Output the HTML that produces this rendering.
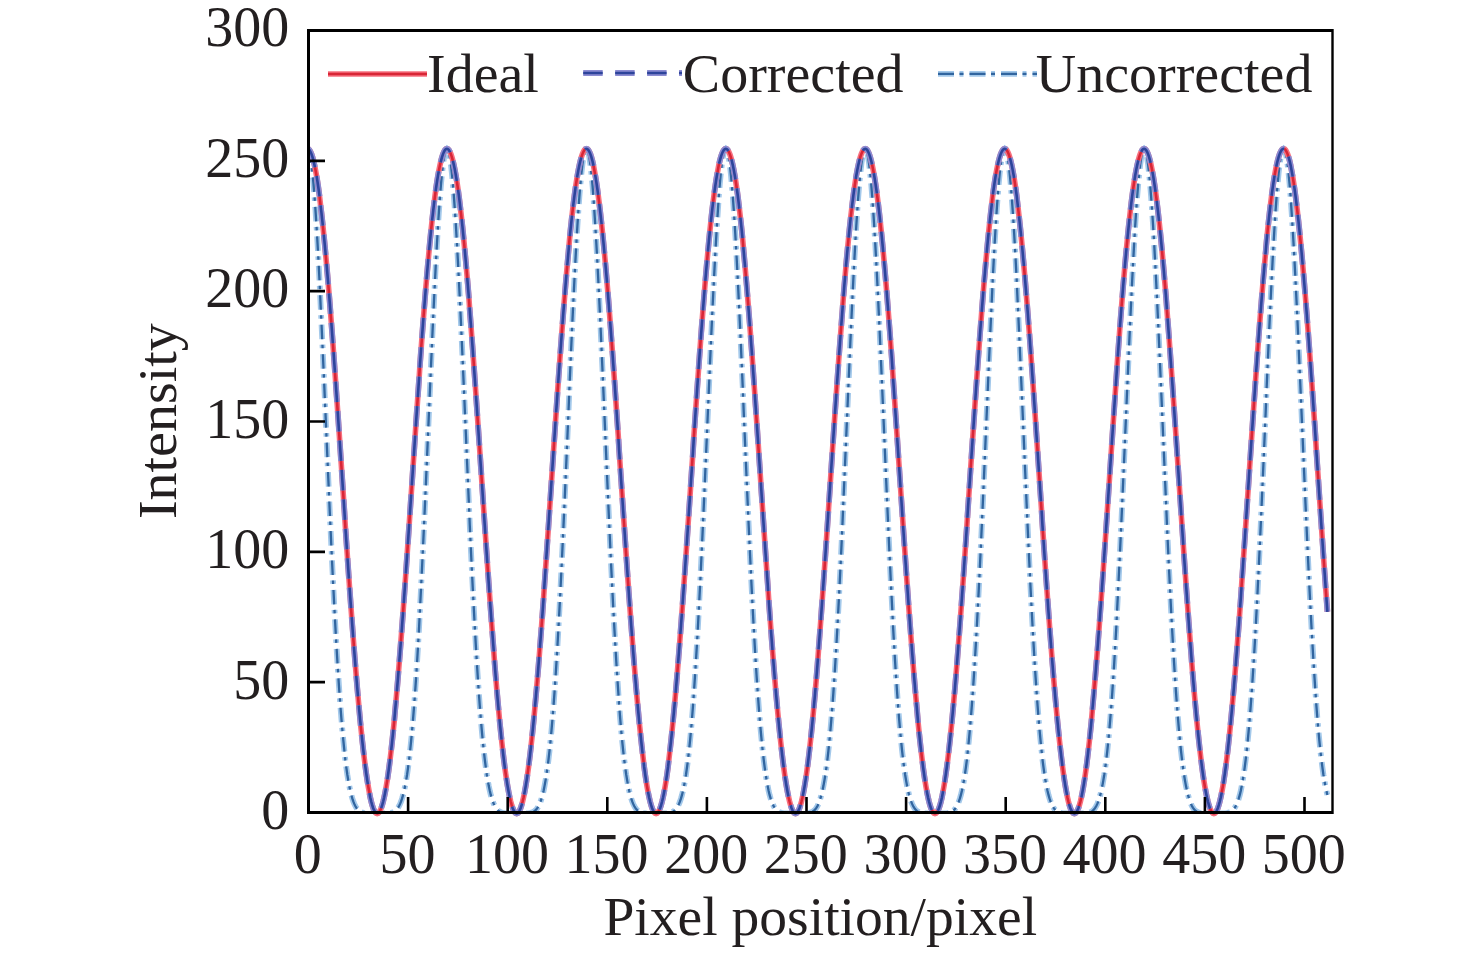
<!DOCTYPE html>
<html><head><meta charset="utf-8"><style>html,body{margin:0;padding:0;background:#fff;width:1476px;height:953px;overflow:hidden}svg{display:block}</style></head>
<body><svg width="1476" height="953" viewBox="0 0 1476 953"><rect width="1476" height="953" fill="#fff"/><defs><clipPath id="c"><rect x="309" y="31" width="1023" height="790"/></clipPath></defs><defs><clipPath id="c2"><rect x="309" y="31" width="1023" height="780"/></clipPath></defs><g clip-path="url(#c2)"><path d="M307.5 148.8L308.5 149.8L309.5 152.8L310.5 157.8L311.5 164.7L312.5 173.5L313.5 184.1L314.5 196.4L315.5 210.4L316.5 225.8L317.5 242.7L318.5 260.9L319.5 280.2L320.4 300.5L321.4 321.6L322.4 343.5L323.4 365.9L324.4 388.6L325.4 411.7L326.4 434.8L327.4 458.0L328.4 480.9L329.4 503.6L330.4 525.8L331.4 547.5L332.4 568.5L333.4 588.9L334.4 608.4L335.4 627.1L336.4 644.9L337.4 661.7L338.4 677.5L339.4 692.3L340.4 706.0L341.4 718.7L342.4 730.4L343.4 741.1L344.4 750.8L345.3 759.6L346.3 767.4L347.3 774.5L348.3 780.6L349.3 786.1L350.3 790.8L351.3 794.9L352.3 798.4L353.3 801.4L354.3 803.9L355.3 806.0L356.3 807.7L357.3 809.1L358.3 810.2L359.3 811.1L360.3 811.7L361.3 812.2L362.3 812.6L363.3 812.9L364.3 813.1L365.3 813.3L366.3 813.4L367.3 813.4L368.3 813.5L369.3 813.5L370.2 813.5L371.2 813.5L372.2 813.5L373.2 813.5L374.2 813.5L375.2 813.5L376.2 813.5L377.2 813.5L378.2 813.5L379.2 813.5L380.2 813.5L381.2 813.5L382.2 813.5L383.2 813.5L384.2 813.5L385.2 813.5L386.2 813.5L387.2 813.4L388.2 813.4L389.2 813.3L390.2 813.1L391.2 812.9L392.2 812.6L393.2 812.2L394.2 811.7L395.1 811.1L396.1 810.2L397.1 809.1L398.1 807.7L399.1 806.0L400.1 803.9L401.1 801.4L402.1 798.4L403.1 794.9L404.1 790.8L405.1 786.1L406.1 780.6L407.1 774.5L408.1 767.4L409.1 759.6L410.1 750.8L411.1 741.1L412.1 730.4L413.1 718.7L414.1 706.0L415.1 692.3L416.1 677.5L417.1 661.7L418.1 644.9L419.1 627.1L420.0 608.4L421.0 588.9L422.0 568.5L423.0 547.5L424.0 525.8L425.0 503.6L426.0 480.9L427.0 458.0L428.0 434.8L429.0 411.7L430.0 388.6L431.0 365.9L432.0 343.5L433.0 321.6L434.0 300.5L435.0 280.2L436.0 260.9L437.0 242.7L438.0 225.8L439.0 210.4L440.0 196.4L441.0 184.1L442.0 173.5L443.0 164.7L444.0 157.8L444.9 152.8L445.9 149.8L446.9 148.8L447.9 149.8L448.9 152.8L449.9 157.8L450.9 164.7L451.9 173.5L452.9 184.1L453.9 196.4L454.9 210.4L455.9 225.8L456.9 242.7L457.9 260.9L458.9 280.2L459.9 300.5L460.9 321.6L461.9 343.5L462.9 365.9L463.9 388.6L464.9 411.7L465.9 434.8L466.9 458.0L467.9 480.9L468.9 503.6L469.8 525.8L470.8 547.5L471.8 568.5L472.8 588.9L473.8 608.4L474.8 627.1L475.8 644.9L476.8 661.7L477.8 677.5L478.8 692.3L479.8 706.0L480.8 718.7L481.8 730.4L482.8 741.1L483.8 750.8L484.8 759.6L485.8 767.4L486.8 774.5L487.8 780.6L488.8 786.1L489.8 790.8L490.8 794.9L491.8 798.4L492.8 801.4L493.8 803.9L494.7 806.0L495.7 807.7L496.7 809.1L497.7 810.2L498.7 811.1L499.7 811.7L500.7 812.2L501.7 812.6L502.7 812.9L503.7 813.1L504.7 813.3L505.7 813.4L506.7 813.4L507.7 813.5L508.7 813.5L509.7 813.5L510.7 813.5L511.7 813.5L512.7 813.5L513.7 813.5L514.7 813.5L515.7 813.5L516.7 813.5L517.7 813.5L518.7 813.5L519.6 813.5L520.6 813.5L521.6 813.5L522.6 813.5L523.6 813.5L524.6 813.5L525.6 813.5L526.6 813.4L527.6 813.4L528.6 813.3L529.6 813.1L530.6 812.9L531.6 812.6L532.6 812.2L533.6 811.7L534.6 811.1L535.6 810.2L536.6 809.1L537.6 807.7L538.6 806.0L539.6 803.9L540.6 801.4L541.6 798.4L542.6 794.9L543.6 790.8L544.5 786.1L545.5 780.6L546.5 774.5L547.5 767.4L548.5 759.6L549.5 750.8L550.5 741.1L551.5 730.4L552.5 718.7L553.5 706.0L554.5 692.3L555.5 677.5L556.5 661.7L557.5 644.9L558.5 627.1L559.5 608.4L560.5 588.9L561.5 568.5L562.5 547.5L563.5 525.8L564.5 503.6L565.5 480.9L566.5 458.0L567.5 434.8L568.5 411.7L569.4 388.6L570.4 365.9L571.4 343.5L572.4 321.6L573.4 300.5L574.4 280.2L575.4 260.9L576.4 242.7L577.4 225.8L578.4 210.4L579.4 196.4L580.4 184.1L581.4 173.5L582.4 164.7L583.4 157.8L584.4 152.8L585.4 149.8L586.4 148.8L587.4 149.8L588.4 152.8L589.4 157.8L590.4 164.7L591.4 173.5L592.4 184.1L593.4 196.4L594.3 210.4L595.3 225.8L596.3 242.7L597.3 260.9L598.3 280.2L599.3 300.5L600.3 321.6L601.3 343.5L602.3 365.9L603.3 388.6L604.3 411.7L605.3 434.8L606.3 458.0L607.3 480.9L608.3 503.6L609.3 525.8L610.3 547.5L611.3 568.5L612.3 588.9L613.3 608.4L614.3 627.1L615.3 644.9L616.3 661.7L617.3 677.5L618.3 692.3L619.2 706.0L620.2 718.7L621.2 730.4L622.2 741.1L623.2 750.8L624.2 759.6L625.2 767.4L626.2 774.5L627.2 780.6L628.2 786.1L629.2 790.8L630.2 794.9L631.2 798.4L632.2 801.4L633.2 803.9L634.2 806.0L635.2 807.7L636.2 809.1L637.2 810.2L638.2 811.1L639.2 811.7L640.2 812.2L641.2 812.6L642.2 812.9L643.2 813.1L644.1 813.3L645.1 813.4L646.1 813.4L647.1 813.5L648.1 813.5L649.1 813.5L650.1 813.5L651.1 813.5L652.1 813.5L653.1 813.5L654.1 813.5L655.1 813.5L656.1 813.5L657.1 813.5L658.1 813.5L659.1 813.5L660.1 813.5L661.1 813.5L662.1 813.5L663.1 813.5L664.1 813.5L665.1 813.5L666.1 813.4L667.1 813.4L668.1 813.3L669.0 813.1L670.0 812.9L671.0 812.6L672.0 812.2L673.0 811.7L674.0 811.1L675.0 810.2L676.0 809.1L677.0 807.7L678.0 806.0L679.0 803.9L680.0 801.4L681.0 798.4L682.0 794.9L683.0 790.8L684.0 786.1L685.0 780.6L686.0 774.5L687.0 767.4L688.0 759.6L689.0 750.8L690.0 741.1L691.0 730.4L692.0 718.7L693.0 706.0L693.9 692.3L694.9 677.5L695.9 661.7L696.9 644.9L697.9 627.1L698.9 608.4L699.9 588.9L700.9 568.5L701.9 547.5L702.9 525.8L703.9 503.6L704.9 480.9L705.9 458.0L706.9 434.8L707.9 411.7L708.9 388.6L709.9 365.9L710.9 343.5L711.9 321.6L712.9 300.5L713.9 280.2L714.9 260.9L715.9 242.7L716.9 225.8L717.9 210.4L718.8 196.4L719.8 184.1L720.8 173.5L721.8 164.7L722.8 157.8L723.8 152.8L724.8 149.8L725.8 148.8L726.8 149.8L727.8 152.8L728.8 157.8L729.8 164.7L730.8 173.5L731.8 184.1L732.8 196.4L733.8 210.4L734.8 225.8L735.8 242.7L736.8 260.9L737.8 280.2L738.8 300.5L739.8 321.6L740.8 343.5L741.8 365.9L742.8 388.6L743.7 411.7L744.7 434.8L745.7 458.0L746.7 480.9L747.7 503.6L748.7 525.8L749.7 547.5L750.7 568.5L751.7 588.9L752.7 608.4L753.7 627.1L754.7 644.9L755.7 661.7L756.7 677.5L757.7 692.3L758.7 706.0L759.7 718.7L760.7 730.4L761.7 741.1L762.7 750.8L763.7 759.6L764.7 767.4L765.7 774.5L766.7 780.6L767.7 786.1L768.6 790.8L769.6 794.9L770.6 798.4L771.6 801.4L772.6 803.9L773.6 806.0L774.6 807.7L775.6 809.1L776.6 810.2L777.6 811.1L778.6 811.7L779.6 812.2L780.6 812.6L781.6 812.9L782.6 813.1L783.6 813.3L784.6 813.4L785.6 813.4L786.6 813.5L787.6 813.5L788.6 813.5L789.6 813.5L790.6 813.5L791.6 813.5L792.6 813.5L793.5 813.5L794.5 813.5L795.5 813.5L796.5 813.5L797.5 813.5L798.5 813.5L799.5 813.5L800.5 813.5L801.5 813.5L802.5 813.5L803.5 813.5L804.5 813.5L805.5 813.4L806.5 813.4L807.5 813.3L808.5 813.1L809.5 812.9L810.5 812.6L811.5 812.2L812.5 811.7L813.5 811.1L814.5 810.2L815.5 809.1L816.5 807.7L817.5 806.0L818.4 803.9L819.4 801.4L820.4 798.4L821.4 794.9L822.4 790.8L823.4 786.1L824.4 780.6L825.4 774.5L826.4 767.4L827.4 759.6L828.4 750.8L829.4 741.1L830.4 730.4L831.4 718.7L832.4 706.0L833.4 692.3L834.4 677.5L835.4 661.7L836.4 644.9L837.4 627.1L838.4 608.4L839.4 588.9L840.4 568.5L841.4 547.5L842.4 525.8L843.3 503.6L844.3 480.9L845.3 458.0L846.3 434.8L847.3 411.7L848.3 388.6L849.3 365.9L850.3 343.5L851.3 321.6L852.3 300.5L853.3 280.2L854.3 260.9L855.3 242.7L856.3 225.8L857.3 210.4L858.3 196.4L859.3 184.1L860.3 173.5L861.3 164.7L862.3 157.8L863.3 152.8L864.3 149.8L865.3 148.8L866.3 149.8L867.3 152.8L868.2 157.8L869.2 164.7L870.2 173.5L871.2 184.1L872.2 196.4L873.2 210.4L874.2 225.8L875.2 242.7L876.2 260.9L877.2 280.2L878.2 300.5L879.2 321.6L880.2 343.5L881.2 365.9L882.2 388.6L883.2 411.7L884.2 434.8L885.2 458.0L886.2 480.9L887.2 503.6L888.2 525.8L889.2 547.5L890.2 568.5L891.2 588.9L892.2 608.4L893.1 627.1L894.1 644.9L895.1 661.7L896.1 677.5L897.1 692.3L898.1 706.0L899.1 718.7L900.1 730.4L901.1 741.1L902.1 750.8L903.1 759.6L904.1 767.4L905.1 774.5L906.1 780.6L907.1 786.1L908.1 790.8L909.1 794.9L910.1 798.4L911.1 801.4L912.1 803.9L913.1 806.0L914.1 807.7L915.1 809.1L916.1 810.2L917.1 811.1L918.0 811.7L919.0 812.2L920.0 812.6L921.0 812.9L922.0 813.1L923.0 813.3L924.0 813.4L925.0 813.4L926.0 813.5L927.0 813.5L928.0 813.5L929.0 813.5L930.0 813.5L931.0 813.5L932.0 813.5L933.0 813.5L934.0 813.5L935.0 813.5L936.0 813.5L937.0 813.5L938.0 813.5L939.0 813.5L940.0 813.5L941.0 813.5L942.0 813.5L942.9 813.5L943.9 813.5L944.9 813.4L945.9 813.4L946.9 813.3L947.9 813.1L948.9 812.9L949.9 812.6L950.9 812.2L951.9 811.7L952.9 811.1L953.9 810.2L954.9 809.1L955.9 807.7L956.9 806.0L957.9 803.9L958.9 801.4L959.9 798.4L960.9 794.9L961.9 790.8L962.9 786.1L963.9 780.6L964.9 774.5L965.9 767.4L966.9 759.6L967.8 750.8L968.8 741.1L969.8 730.4L970.8 718.7L971.8 706.0L972.8 692.3L973.8 677.5L974.8 661.7L975.8 644.9L976.8 627.1L977.8 608.4L978.8 588.9L979.8 568.5L980.8 547.5L981.8 525.8L982.8 503.6L983.8 480.9L984.8 458.0L985.8 434.8L986.8 411.7L987.8 388.6L988.8 365.9L989.8 343.5L990.8 321.6L991.8 300.5L992.7 280.2L993.7 260.9L994.7 242.7L995.7 225.8L996.7 210.4L997.7 196.4L998.7 184.1L999.7 173.5L1000.7 164.7L1001.7 157.8L1002.7 152.8L1003.7 149.8L1004.7 148.8L1005.7 149.8L1006.7 152.8L1007.7 157.8L1008.7 164.7L1009.7 173.5L1010.7 184.1L1011.7 196.4L1012.7 210.4L1013.7 225.8L1014.7 242.7L1015.7 260.9L1016.7 280.2L1017.6 300.5L1018.6 321.6L1019.6 343.5L1020.6 365.9L1021.6 388.6L1022.6 411.7L1023.6 434.8L1024.6 458.0L1025.6 480.9L1026.6 503.6L1027.6 525.8L1028.6 547.5L1029.6 568.5L1030.6 588.9L1031.6 608.4L1032.6 627.1L1033.6 644.9L1034.6 661.7L1035.6 677.5L1036.6 692.3L1037.6 706.0L1038.6 718.7L1039.6 730.4L1040.6 741.1L1041.6 750.8L1042.5 759.6L1043.5 767.4L1044.5 774.5L1045.5 780.6L1046.5 786.1L1047.5 790.8L1048.5 794.9L1049.5 798.4L1050.5 801.4L1051.5 803.9L1052.5 806.0L1053.5 807.7L1054.5 809.1L1055.5 810.2L1056.5 811.1L1057.5 811.7L1058.5 812.2L1059.5 812.6L1060.5 812.9L1061.5 813.1L1062.5 813.3L1063.5 813.4L1064.5 813.4L1065.5 813.5L1066.5 813.5L1067.4 813.5L1068.4 813.5L1069.4 813.5L1070.4 813.5L1071.4 813.5L1072.4 813.5L1073.4 813.5L1074.4 813.5L1075.4 813.5L1076.4 813.5L1077.4 813.5L1078.4 813.5L1079.4 813.5L1080.4 813.5L1081.4 813.5L1082.4 813.5L1083.4 813.5L1084.4 813.4L1085.4 813.4L1086.4 813.3L1087.4 813.1L1088.4 812.9L1089.4 812.6L1090.4 812.2L1091.4 811.7L1092.3 811.1L1093.3 810.2L1094.3 809.1L1095.3 807.7L1096.3 806.0L1097.3 803.9L1098.3 801.4L1099.3 798.4L1100.3 794.9L1101.3 790.8L1102.3 786.1L1103.3 780.6L1104.3 774.5L1105.3 767.4L1106.3 759.6L1107.3 750.8L1108.3 741.1L1109.3 730.4L1110.3 718.7L1111.3 706.0L1112.3 692.3L1113.3 677.5L1114.3 661.7L1115.3 644.9L1116.3 627.1L1117.2 608.4L1118.2 588.9L1119.2 568.5L1120.2 547.5L1121.2 525.8L1122.2 503.6L1123.2 480.9L1124.2 458.0L1125.2 434.8L1126.2 411.7L1127.2 388.6L1128.2 365.9L1129.2 343.5L1130.2 321.6L1131.2 300.5L1132.2 280.2L1133.2 260.9L1134.2 242.7L1135.2 225.8L1136.2 210.4L1137.2 196.4L1138.2 184.1L1139.2 173.5L1140.2 164.7L1141.2 157.8L1142.1 152.8L1143.1 149.8L1144.1 148.8L1145.1 149.8L1146.1 152.8L1147.1 157.8L1148.1 164.7L1149.1 173.5L1150.1 184.1L1151.1 196.4L1152.1 210.4L1153.1 225.8L1154.1 242.7L1155.1 260.9L1156.1 280.2L1157.1 300.5L1158.1 321.6L1159.1 343.5L1160.1 365.9L1161.1 388.6L1162.1 411.7L1163.1 434.8L1164.1 458.0L1165.1 480.9L1166.1 503.6L1167.0 525.8L1168.0 547.5L1169.0 568.5L1170.0 588.9L1171.0 608.4L1172.0 627.1L1173.0 644.9L1174.0 661.7L1175.0 677.5L1176.0 692.3L1177.0 706.0L1178.0 718.7L1179.0 730.4L1180.0 741.1L1181.0 750.8L1182.0 759.6L1183.0 767.4L1184.0 774.5L1185.0 780.6L1186.0 786.1L1187.0 790.8L1188.0 794.9L1189.0 798.4L1190.0 801.4L1191.0 803.9L1191.9 806.0L1192.9 807.7L1193.9 809.1L1194.9 810.2L1195.9 811.1L1196.9 811.7L1197.9 812.2L1198.9 812.6L1199.9 812.9L1200.9 813.1L1201.9 813.3L1202.9 813.4L1203.9 813.4L1204.9 813.5L1205.9 813.5L1206.9 813.5L1207.9 813.5L1208.9 813.5L1209.9 813.5L1210.9 813.5L1211.9 813.5L1212.9 813.5L1213.9 813.5L1214.9 813.5L1215.9 813.5L1216.8 813.5L1217.8 813.5L1218.8 813.5L1219.8 813.5L1220.8 813.5L1221.8 813.5L1222.8 813.5L1223.8 813.4L1224.8 813.4L1225.8 813.3L1226.8 813.1L1227.8 812.9L1228.8 812.6L1229.8 812.2L1230.8 811.7L1231.8 811.1L1232.8 810.2L1233.8 809.1L1234.8 807.7L1235.8 806.0L1236.8 803.9L1237.8 801.4L1238.8 798.4L1239.8 794.9L1240.8 790.8L1241.7 786.1L1242.7 780.6L1243.7 774.5L1244.7 767.4L1245.7 759.6L1246.7 750.8L1247.7 741.1L1248.7 730.4L1249.7 718.7L1250.7 706.0L1251.7 692.3L1252.7 677.5L1253.7 661.7L1254.7 644.9L1255.7 627.1L1256.7 608.4L1257.7 588.9L1258.7 568.5L1259.7 547.5L1260.7 525.8L1261.7 503.6L1262.7 480.9L1263.7 458.0L1264.7 434.8L1265.7 411.7L1266.6 388.6L1267.6 365.9L1268.6 343.5L1269.6 321.6L1270.6 300.5L1271.6 280.2L1272.6 260.9L1273.6 242.7L1274.6 225.8L1275.6 210.4L1276.6 196.4L1277.6 184.1L1278.6 173.5L1279.6 164.7L1280.6 157.8L1281.6 152.8L1282.6 149.8L1283.6 148.8L1284.6 149.8L1285.6 152.8L1286.6 157.8L1287.6 164.7L1288.6 173.5L1289.6 184.1L1290.6 196.4L1291.5 210.4L1292.5 225.8L1293.5 242.7L1294.5 260.9L1295.5 280.2L1296.5 300.5L1297.5 321.6L1298.5 343.5L1299.5 365.9L1300.5 388.6L1301.5 411.7L1302.5 434.8L1303.5 458.0L1304.5 480.9L1305.5 503.6L1306.5 525.8L1307.5 547.5L1308.5 568.5L1309.5 588.9L1310.5 608.4L1311.5 627.1L1312.5 644.9L1313.5 661.7L1314.5 677.5L1315.5 692.3L1316.4 706.0L1317.4 718.7L1318.4 730.4L1319.4 741.1L1320.4 750.8L1321.4 759.6L1322.4 767.4L1323.4 774.5L1324.4 780.6L1325.4 786.1L1326.4 790.8L1327.4 794.9" fill="none" stroke="#a3c8ea" stroke-width="5.8" stroke-dasharray="14.5 5.5 3.5 6"/><path d="M307.5 148.8L308.5 149.8L309.5 152.8L310.5 157.8L311.5 164.7L312.5 173.5L313.5 184.1L314.5 196.4L315.5 210.4L316.5 225.8L317.5 242.7L318.5 260.9L319.5 280.2L320.4 300.5L321.4 321.6L322.4 343.5L323.4 365.9L324.4 388.6L325.4 411.7L326.4 434.8L327.4 458.0L328.4 480.9L329.4 503.6L330.4 525.8L331.4 547.5L332.4 568.5L333.4 588.9L334.4 608.4L335.4 627.1L336.4 644.9L337.4 661.7L338.4 677.5L339.4 692.3L340.4 706.0L341.4 718.7L342.4 730.4L343.4 741.1L344.4 750.8L345.3 759.6L346.3 767.4L347.3 774.5L348.3 780.6L349.3 786.1L350.3 790.8L351.3 794.9L352.3 798.4L353.3 801.4L354.3 803.9L355.3 806.0L356.3 807.7L357.3 809.1L358.3 810.2L359.3 811.1L360.3 811.7L361.3 812.2L362.3 812.6L363.3 812.9L364.3 813.1L365.3 813.3L366.3 813.4L367.3 813.4L368.3 813.5L369.3 813.5L370.2 813.5L371.2 813.5L372.2 813.5L373.2 813.5L374.2 813.5L375.2 813.5L376.2 813.5L377.2 813.5L378.2 813.5L379.2 813.5L380.2 813.5L381.2 813.5L382.2 813.5L383.2 813.5L384.2 813.5L385.2 813.5L386.2 813.5L387.2 813.4L388.2 813.4L389.2 813.3L390.2 813.1L391.2 812.9L392.2 812.6L393.2 812.2L394.2 811.7L395.1 811.1L396.1 810.2L397.1 809.1L398.1 807.7L399.1 806.0L400.1 803.9L401.1 801.4L402.1 798.4L403.1 794.9L404.1 790.8L405.1 786.1L406.1 780.6L407.1 774.5L408.1 767.4L409.1 759.6L410.1 750.8L411.1 741.1L412.1 730.4L413.1 718.7L414.1 706.0L415.1 692.3L416.1 677.5L417.1 661.7L418.1 644.9L419.1 627.1L420.0 608.4L421.0 588.9L422.0 568.5L423.0 547.5L424.0 525.8L425.0 503.6L426.0 480.9L427.0 458.0L428.0 434.8L429.0 411.7L430.0 388.6L431.0 365.9L432.0 343.5L433.0 321.6L434.0 300.5L435.0 280.2L436.0 260.9L437.0 242.7L438.0 225.8L439.0 210.4L440.0 196.4L441.0 184.1L442.0 173.5L443.0 164.7L444.0 157.8L444.9 152.8L445.9 149.8L446.9 148.8L447.9 149.8L448.9 152.8L449.9 157.8L450.9 164.7L451.9 173.5L452.9 184.1L453.9 196.4L454.9 210.4L455.9 225.8L456.9 242.7L457.9 260.9L458.9 280.2L459.9 300.5L460.9 321.6L461.9 343.5L462.9 365.9L463.9 388.6L464.9 411.7L465.9 434.8L466.9 458.0L467.9 480.9L468.9 503.6L469.8 525.8L470.8 547.5L471.8 568.5L472.8 588.9L473.8 608.4L474.8 627.1L475.8 644.9L476.8 661.7L477.8 677.5L478.8 692.3L479.8 706.0L480.8 718.7L481.8 730.4L482.8 741.1L483.8 750.8L484.8 759.6L485.8 767.4L486.8 774.5L487.8 780.6L488.8 786.1L489.8 790.8L490.8 794.9L491.8 798.4L492.8 801.4L493.8 803.9L494.7 806.0L495.7 807.7L496.7 809.1L497.7 810.2L498.7 811.1L499.7 811.7L500.7 812.2L501.7 812.6L502.7 812.9L503.7 813.1L504.7 813.3L505.7 813.4L506.7 813.4L507.7 813.5L508.7 813.5L509.7 813.5L510.7 813.5L511.7 813.5L512.7 813.5L513.7 813.5L514.7 813.5L515.7 813.5L516.7 813.5L517.7 813.5L518.7 813.5L519.6 813.5L520.6 813.5L521.6 813.5L522.6 813.5L523.6 813.5L524.6 813.5L525.6 813.5L526.6 813.4L527.6 813.4L528.6 813.3L529.6 813.1L530.6 812.9L531.6 812.6L532.6 812.2L533.6 811.7L534.6 811.1L535.6 810.2L536.6 809.1L537.6 807.7L538.6 806.0L539.6 803.9L540.6 801.4L541.6 798.4L542.6 794.9L543.6 790.8L544.5 786.1L545.5 780.6L546.5 774.5L547.5 767.4L548.5 759.6L549.5 750.8L550.5 741.1L551.5 730.4L552.5 718.7L553.5 706.0L554.5 692.3L555.5 677.5L556.5 661.7L557.5 644.9L558.5 627.1L559.5 608.4L560.5 588.9L561.5 568.5L562.5 547.5L563.5 525.8L564.5 503.6L565.5 480.9L566.5 458.0L567.5 434.8L568.5 411.7L569.4 388.6L570.4 365.9L571.4 343.5L572.4 321.6L573.4 300.5L574.4 280.2L575.4 260.9L576.4 242.7L577.4 225.8L578.4 210.4L579.4 196.4L580.4 184.1L581.4 173.5L582.4 164.7L583.4 157.8L584.4 152.8L585.4 149.8L586.4 148.8L587.4 149.8L588.4 152.8L589.4 157.8L590.4 164.7L591.4 173.5L592.4 184.1L593.4 196.4L594.3 210.4L595.3 225.8L596.3 242.7L597.3 260.9L598.3 280.2L599.3 300.5L600.3 321.6L601.3 343.5L602.3 365.9L603.3 388.6L604.3 411.7L605.3 434.8L606.3 458.0L607.3 480.9L608.3 503.6L609.3 525.8L610.3 547.5L611.3 568.5L612.3 588.9L613.3 608.4L614.3 627.1L615.3 644.9L616.3 661.7L617.3 677.5L618.3 692.3L619.2 706.0L620.2 718.7L621.2 730.4L622.2 741.1L623.2 750.8L624.2 759.6L625.2 767.4L626.2 774.5L627.2 780.6L628.2 786.1L629.2 790.8L630.2 794.9L631.2 798.4L632.2 801.4L633.2 803.9L634.2 806.0L635.2 807.7L636.2 809.1L637.2 810.2L638.2 811.1L639.2 811.7L640.2 812.2L641.2 812.6L642.2 812.9L643.2 813.1L644.1 813.3L645.1 813.4L646.1 813.4L647.1 813.5L648.1 813.5L649.1 813.5L650.1 813.5L651.1 813.5L652.1 813.5L653.1 813.5L654.1 813.5L655.1 813.5L656.1 813.5L657.1 813.5L658.1 813.5L659.1 813.5L660.1 813.5L661.1 813.5L662.1 813.5L663.1 813.5L664.1 813.5L665.1 813.5L666.1 813.4L667.1 813.4L668.1 813.3L669.0 813.1L670.0 812.9L671.0 812.6L672.0 812.2L673.0 811.7L674.0 811.1L675.0 810.2L676.0 809.1L677.0 807.7L678.0 806.0L679.0 803.9L680.0 801.4L681.0 798.4L682.0 794.9L683.0 790.8L684.0 786.1L685.0 780.6L686.0 774.5L687.0 767.4L688.0 759.6L689.0 750.8L690.0 741.1L691.0 730.4L692.0 718.7L693.0 706.0L693.9 692.3L694.9 677.5L695.9 661.7L696.9 644.9L697.9 627.1L698.9 608.4L699.9 588.9L700.9 568.5L701.9 547.5L702.9 525.8L703.9 503.6L704.9 480.9L705.9 458.0L706.9 434.8L707.9 411.7L708.9 388.6L709.9 365.9L710.9 343.5L711.9 321.6L712.9 300.5L713.9 280.2L714.9 260.9L715.9 242.7L716.9 225.8L717.9 210.4L718.8 196.4L719.8 184.1L720.8 173.5L721.8 164.7L722.8 157.8L723.8 152.8L724.8 149.8L725.8 148.8L726.8 149.8L727.8 152.8L728.8 157.8L729.8 164.7L730.8 173.5L731.8 184.1L732.8 196.4L733.8 210.4L734.8 225.8L735.8 242.7L736.8 260.9L737.8 280.2L738.8 300.5L739.8 321.6L740.8 343.5L741.8 365.9L742.8 388.6L743.7 411.7L744.7 434.8L745.7 458.0L746.7 480.9L747.7 503.6L748.7 525.8L749.7 547.5L750.7 568.5L751.7 588.9L752.7 608.4L753.7 627.1L754.7 644.9L755.7 661.7L756.7 677.5L757.7 692.3L758.7 706.0L759.7 718.7L760.7 730.4L761.7 741.1L762.7 750.8L763.7 759.6L764.7 767.4L765.7 774.5L766.7 780.6L767.7 786.1L768.6 790.8L769.6 794.9L770.6 798.4L771.6 801.4L772.6 803.9L773.6 806.0L774.6 807.7L775.6 809.1L776.6 810.2L777.6 811.1L778.6 811.7L779.6 812.2L780.6 812.6L781.6 812.9L782.6 813.1L783.6 813.3L784.6 813.4L785.6 813.4L786.6 813.5L787.6 813.5L788.6 813.5L789.6 813.5L790.6 813.5L791.6 813.5L792.6 813.5L793.5 813.5L794.5 813.5L795.5 813.5L796.5 813.5L797.5 813.5L798.5 813.5L799.5 813.5L800.5 813.5L801.5 813.5L802.5 813.5L803.5 813.5L804.5 813.5L805.5 813.4L806.5 813.4L807.5 813.3L808.5 813.1L809.5 812.9L810.5 812.6L811.5 812.2L812.5 811.7L813.5 811.1L814.5 810.2L815.5 809.1L816.5 807.7L817.5 806.0L818.4 803.9L819.4 801.4L820.4 798.4L821.4 794.9L822.4 790.8L823.4 786.1L824.4 780.6L825.4 774.5L826.4 767.4L827.4 759.6L828.4 750.8L829.4 741.1L830.4 730.4L831.4 718.7L832.4 706.0L833.4 692.3L834.4 677.5L835.4 661.7L836.4 644.9L837.4 627.1L838.4 608.4L839.4 588.9L840.4 568.5L841.4 547.5L842.4 525.8L843.3 503.6L844.3 480.9L845.3 458.0L846.3 434.8L847.3 411.7L848.3 388.6L849.3 365.9L850.3 343.5L851.3 321.6L852.3 300.5L853.3 280.2L854.3 260.9L855.3 242.7L856.3 225.8L857.3 210.4L858.3 196.4L859.3 184.1L860.3 173.5L861.3 164.7L862.3 157.8L863.3 152.8L864.3 149.8L865.3 148.8L866.3 149.8L867.3 152.8L868.2 157.8L869.2 164.7L870.2 173.5L871.2 184.1L872.2 196.4L873.2 210.4L874.2 225.8L875.2 242.7L876.2 260.9L877.2 280.2L878.2 300.5L879.2 321.6L880.2 343.5L881.2 365.9L882.2 388.6L883.2 411.7L884.2 434.8L885.2 458.0L886.2 480.9L887.2 503.6L888.2 525.8L889.2 547.5L890.2 568.5L891.2 588.9L892.2 608.4L893.1 627.1L894.1 644.9L895.1 661.7L896.1 677.5L897.1 692.3L898.1 706.0L899.1 718.7L900.1 730.4L901.1 741.1L902.1 750.8L903.1 759.6L904.1 767.4L905.1 774.5L906.1 780.6L907.1 786.1L908.1 790.8L909.1 794.9L910.1 798.4L911.1 801.4L912.1 803.9L913.1 806.0L914.1 807.7L915.1 809.1L916.1 810.2L917.1 811.1L918.0 811.7L919.0 812.2L920.0 812.6L921.0 812.9L922.0 813.1L923.0 813.3L924.0 813.4L925.0 813.4L926.0 813.5L927.0 813.5L928.0 813.5L929.0 813.5L930.0 813.5L931.0 813.5L932.0 813.5L933.0 813.5L934.0 813.5L935.0 813.5L936.0 813.5L937.0 813.5L938.0 813.5L939.0 813.5L940.0 813.5L941.0 813.5L942.0 813.5L942.9 813.5L943.9 813.5L944.9 813.4L945.9 813.4L946.9 813.3L947.9 813.1L948.9 812.9L949.9 812.6L950.9 812.2L951.9 811.7L952.9 811.1L953.9 810.2L954.9 809.1L955.9 807.7L956.9 806.0L957.9 803.9L958.9 801.4L959.9 798.4L960.9 794.9L961.9 790.8L962.9 786.1L963.9 780.6L964.9 774.5L965.9 767.4L966.9 759.6L967.8 750.8L968.8 741.1L969.8 730.4L970.8 718.7L971.8 706.0L972.8 692.3L973.8 677.5L974.8 661.7L975.8 644.9L976.8 627.1L977.8 608.4L978.8 588.9L979.8 568.5L980.8 547.5L981.8 525.8L982.8 503.6L983.8 480.9L984.8 458.0L985.8 434.8L986.8 411.7L987.8 388.6L988.8 365.9L989.8 343.5L990.8 321.6L991.8 300.5L992.7 280.2L993.7 260.9L994.7 242.7L995.7 225.8L996.7 210.4L997.7 196.4L998.7 184.1L999.7 173.5L1000.7 164.7L1001.7 157.8L1002.7 152.8L1003.7 149.8L1004.7 148.8L1005.7 149.8L1006.7 152.8L1007.7 157.8L1008.7 164.7L1009.7 173.5L1010.7 184.1L1011.7 196.4L1012.7 210.4L1013.7 225.8L1014.7 242.7L1015.7 260.9L1016.7 280.2L1017.6 300.5L1018.6 321.6L1019.6 343.5L1020.6 365.9L1021.6 388.6L1022.6 411.7L1023.6 434.8L1024.6 458.0L1025.6 480.9L1026.6 503.6L1027.6 525.8L1028.6 547.5L1029.6 568.5L1030.6 588.9L1031.6 608.4L1032.6 627.1L1033.6 644.9L1034.6 661.7L1035.6 677.5L1036.6 692.3L1037.6 706.0L1038.6 718.7L1039.6 730.4L1040.6 741.1L1041.6 750.8L1042.5 759.6L1043.5 767.4L1044.5 774.5L1045.5 780.6L1046.5 786.1L1047.5 790.8L1048.5 794.9L1049.5 798.4L1050.5 801.4L1051.5 803.9L1052.5 806.0L1053.5 807.7L1054.5 809.1L1055.5 810.2L1056.5 811.1L1057.5 811.7L1058.5 812.2L1059.5 812.6L1060.5 812.9L1061.5 813.1L1062.5 813.3L1063.5 813.4L1064.5 813.4L1065.5 813.5L1066.5 813.5L1067.4 813.5L1068.4 813.5L1069.4 813.5L1070.4 813.5L1071.4 813.5L1072.4 813.5L1073.4 813.5L1074.4 813.5L1075.4 813.5L1076.4 813.5L1077.4 813.5L1078.4 813.5L1079.4 813.5L1080.4 813.5L1081.4 813.5L1082.4 813.5L1083.4 813.5L1084.4 813.4L1085.4 813.4L1086.4 813.3L1087.4 813.1L1088.4 812.9L1089.4 812.6L1090.4 812.2L1091.4 811.7L1092.3 811.1L1093.3 810.2L1094.3 809.1L1095.3 807.7L1096.3 806.0L1097.3 803.9L1098.3 801.4L1099.3 798.4L1100.3 794.9L1101.3 790.8L1102.3 786.1L1103.3 780.6L1104.3 774.5L1105.3 767.4L1106.3 759.6L1107.3 750.8L1108.3 741.1L1109.3 730.4L1110.3 718.7L1111.3 706.0L1112.3 692.3L1113.3 677.5L1114.3 661.7L1115.3 644.9L1116.3 627.1L1117.2 608.4L1118.2 588.9L1119.2 568.5L1120.2 547.5L1121.2 525.8L1122.2 503.6L1123.2 480.9L1124.2 458.0L1125.2 434.8L1126.2 411.7L1127.2 388.6L1128.2 365.9L1129.2 343.5L1130.2 321.6L1131.2 300.5L1132.2 280.2L1133.2 260.9L1134.2 242.7L1135.2 225.8L1136.2 210.4L1137.2 196.4L1138.2 184.1L1139.2 173.5L1140.2 164.7L1141.2 157.8L1142.1 152.8L1143.1 149.8L1144.1 148.8L1145.1 149.8L1146.1 152.8L1147.1 157.8L1148.1 164.7L1149.1 173.5L1150.1 184.1L1151.1 196.4L1152.1 210.4L1153.1 225.8L1154.1 242.7L1155.1 260.9L1156.1 280.2L1157.1 300.5L1158.1 321.6L1159.1 343.5L1160.1 365.9L1161.1 388.6L1162.1 411.7L1163.1 434.8L1164.1 458.0L1165.1 480.9L1166.1 503.6L1167.0 525.8L1168.0 547.5L1169.0 568.5L1170.0 588.9L1171.0 608.4L1172.0 627.1L1173.0 644.9L1174.0 661.7L1175.0 677.5L1176.0 692.3L1177.0 706.0L1178.0 718.7L1179.0 730.4L1180.0 741.1L1181.0 750.8L1182.0 759.6L1183.0 767.4L1184.0 774.5L1185.0 780.6L1186.0 786.1L1187.0 790.8L1188.0 794.9L1189.0 798.4L1190.0 801.4L1191.0 803.9L1191.9 806.0L1192.9 807.7L1193.9 809.1L1194.9 810.2L1195.9 811.1L1196.9 811.7L1197.9 812.2L1198.9 812.6L1199.9 812.9L1200.9 813.1L1201.9 813.3L1202.9 813.4L1203.9 813.4L1204.9 813.5L1205.9 813.5L1206.9 813.5L1207.9 813.5L1208.9 813.5L1209.9 813.5L1210.9 813.5L1211.9 813.5L1212.9 813.5L1213.9 813.5L1214.9 813.5L1215.9 813.5L1216.8 813.5L1217.8 813.5L1218.8 813.5L1219.8 813.5L1220.8 813.5L1221.8 813.5L1222.8 813.5L1223.8 813.4L1224.8 813.4L1225.8 813.3L1226.8 813.1L1227.8 812.9L1228.8 812.6L1229.8 812.2L1230.8 811.7L1231.8 811.1L1232.8 810.2L1233.8 809.1L1234.8 807.7L1235.8 806.0L1236.8 803.9L1237.8 801.4L1238.8 798.4L1239.8 794.9L1240.8 790.8L1241.7 786.1L1242.7 780.6L1243.7 774.5L1244.7 767.4L1245.7 759.6L1246.7 750.8L1247.7 741.1L1248.7 730.4L1249.7 718.7L1250.7 706.0L1251.7 692.3L1252.7 677.5L1253.7 661.7L1254.7 644.9L1255.7 627.1L1256.7 608.4L1257.7 588.9L1258.7 568.5L1259.7 547.5L1260.7 525.8L1261.7 503.6L1262.7 480.9L1263.7 458.0L1264.7 434.8L1265.7 411.7L1266.6 388.6L1267.6 365.9L1268.6 343.5L1269.6 321.6L1270.6 300.5L1271.6 280.2L1272.6 260.9L1273.6 242.7L1274.6 225.8L1275.6 210.4L1276.6 196.4L1277.6 184.1L1278.6 173.5L1279.6 164.7L1280.6 157.8L1281.6 152.8L1282.6 149.8L1283.6 148.8L1284.6 149.8L1285.6 152.8L1286.6 157.8L1287.6 164.7L1288.6 173.5L1289.6 184.1L1290.6 196.4L1291.5 210.4L1292.5 225.8L1293.5 242.7L1294.5 260.9L1295.5 280.2L1296.5 300.5L1297.5 321.6L1298.5 343.5L1299.5 365.9L1300.5 388.6L1301.5 411.7L1302.5 434.8L1303.5 458.0L1304.5 480.9L1305.5 503.6L1306.5 525.8L1307.5 547.5L1308.5 568.5L1309.5 588.9L1310.5 608.4L1311.5 627.1L1312.5 644.9L1313.5 661.7L1314.5 677.5L1315.5 692.3L1316.4 706.0L1317.4 718.7L1318.4 730.4L1319.4 741.1L1320.4 750.8L1321.4 759.6L1322.4 767.4L1323.4 774.5L1324.4 780.6L1325.4 786.1L1326.4 790.8L1327.4 794.9" fill="none" stroke="#31659f" stroke-width="2.3" stroke-dasharray="14.5 5.5 3.5 6"/></g><g clip-path="url(#c)"><path d="M307.5 148.8L308.5 149.1L309.5 150.1L310.5 151.8L311.5 154.1L312.5 157.1L313.5 160.8L314.5 165.1L315.5 170.0L316.5 175.5L317.5 181.7L318.5 188.5L319.5 195.8L320.4 203.8L321.4 212.3L322.4 221.3L323.4 230.9L324.4 240.9L325.4 251.5L326.4 262.5L327.4 273.9L328.4 285.8L329.4 298.1L330.4 310.7L331.4 323.7L332.4 336.9L333.4 350.5L334.4 364.4L335.4 378.4L336.4 392.7L337.4 407.2L338.4 421.8L339.4 436.5L340.4 451.4L341.4 466.2L342.4 481.2L343.4 496.1L344.4 510.9L345.3 525.8L346.3 540.5L347.3 555.1L348.3 569.6L349.3 583.9L350.3 597.9L351.3 611.8L352.3 625.4L353.3 638.6L354.3 651.6L355.3 664.2L356.3 676.5L357.3 688.4L358.3 699.8L359.3 710.8L360.3 721.4L361.3 731.4L362.3 741.0L363.3 750.0L364.3 758.5L365.3 766.5L366.3 773.8L367.3 780.6L368.3 786.8L369.3 792.3L370.2 797.2L371.2 801.5L372.2 805.2L373.2 808.2L374.2 810.5L375.2 812.2L376.2 813.2L377.2 813.5L378.2 813.2L379.2 812.2L380.2 810.5L381.2 808.2L382.2 805.2L383.2 801.5L384.2 797.2L385.2 792.3L386.2 786.8L387.2 780.6L388.2 773.8L389.2 766.5L390.2 758.5L391.2 750.0L392.2 741.0L393.2 731.4L394.2 721.4L395.1 710.8L396.1 699.8L397.1 688.4L398.1 676.5L399.1 664.2L400.1 651.6L401.1 638.6L402.1 625.4L403.1 611.8L404.1 597.9L405.1 583.9L406.1 569.6L407.1 555.1L408.1 540.5L409.1 525.8L410.1 510.9L411.1 496.1L412.1 481.2L413.1 466.2L414.1 451.4L415.1 436.5L416.1 421.8L417.1 407.2L418.1 392.7L419.1 378.4L420.0 364.4L421.0 350.5L422.0 336.9L423.0 323.7L424.0 310.7L425.0 298.1L426.0 285.8L427.0 273.9L428.0 262.5L429.0 251.5L430.0 240.9L431.0 230.9L432.0 221.3L433.0 212.3L434.0 203.8L435.0 195.8L436.0 188.5L437.0 181.7L438.0 175.5L439.0 170.0L440.0 165.1L441.0 160.8L442.0 157.1L443.0 154.1L444.0 151.8L444.9 150.1L445.9 149.1L446.9 148.8L447.9 149.1L448.9 150.1L449.9 151.8L450.9 154.1L451.9 157.1L452.9 160.8L453.9 165.1L454.9 170.0L455.9 175.5L456.9 181.7L457.9 188.5L458.9 195.8L459.9 203.8L460.9 212.3L461.9 221.3L462.9 230.9L463.9 240.9L464.9 251.5L465.9 262.5L466.9 273.9L467.9 285.8L468.9 298.1L469.8 310.7L470.8 323.7L471.8 336.9L472.8 350.5L473.8 364.4L474.8 378.4L475.8 392.7L476.8 407.2L477.8 421.8L478.8 436.5L479.8 451.4L480.8 466.2L481.8 481.1L482.8 496.1L483.8 510.9L484.8 525.8L485.8 540.5L486.8 555.1L487.8 569.6L488.8 583.9L489.8 597.9L490.8 611.8L491.8 625.4L492.8 638.6L493.8 651.6L494.7 664.2L495.7 676.5L496.7 688.4L497.7 699.8L498.7 710.8L499.7 721.4L500.7 731.4L501.7 741.0L502.7 750.0L503.7 758.5L504.7 766.5L505.7 773.8L506.7 780.6L507.7 786.8L508.7 792.3L509.7 797.2L510.7 801.5L511.7 805.2L512.7 808.2L513.7 810.5L514.7 812.2L515.7 813.2L516.7 813.5L517.7 813.2L518.7 812.2L519.6 810.5L520.6 808.2L521.6 805.2L522.6 801.5L523.6 797.2L524.6 792.3L525.6 786.8L526.6 780.6L527.6 773.8L528.6 766.5L529.6 758.5L530.6 750.0L531.6 741.0L532.6 731.4L533.6 721.4L534.6 710.8L535.6 699.8L536.6 688.4L537.6 676.5L538.6 664.2L539.6 651.6L540.6 638.6L541.6 625.4L542.6 611.8L543.6 597.9L544.5 583.9L545.5 569.6L546.5 555.1L547.5 540.5L548.5 525.8L549.5 510.9L550.5 496.1L551.5 481.2L552.5 466.2L553.5 451.4L554.5 436.5L555.5 421.8L556.5 407.2L557.5 392.7L558.5 378.4L559.5 364.4L560.5 350.5L561.5 336.9L562.5 323.7L563.5 310.7L564.5 298.1L565.5 285.8L566.5 273.9L567.5 262.5L568.5 251.5L569.4 240.9L570.4 230.9L571.4 221.3L572.4 212.3L573.4 203.8L574.4 195.8L575.4 188.5L576.4 181.7L577.4 175.5L578.4 170.0L579.4 165.1L580.4 160.8L581.4 157.1L582.4 154.1L583.4 151.8L584.4 150.1L585.4 149.1L586.4 148.8L587.4 149.1L588.4 150.1L589.4 151.8L590.4 154.1L591.4 157.1L592.4 160.8L593.4 165.1L594.3 170.0L595.3 175.5L596.3 181.7L597.3 188.5L598.3 195.8L599.3 203.8L600.3 212.3L601.3 221.3L602.3 230.9L603.3 240.9L604.3 251.5L605.3 262.5L606.3 273.9L607.3 285.8L608.3 298.1L609.3 310.7L610.3 323.7L611.3 336.9L612.3 350.5L613.3 364.4L614.3 378.4L615.3 392.7L616.3 407.2L617.3 421.8L618.3 436.5L619.2 451.4L620.2 466.2L621.2 481.1L622.2 496.1L623.2 510.9L624.2 525.8L625.2 540.5L626.2 555.1L627.2 569.6L628.2 583.9L629.2 597.9L630.2 611.8L631.2 625.4L632.2 638.6L633.2 651.6L634.2 664.2L635.2 676.5L636.2 688.4L637.2 699.8L638.2 710.8L639.2 721.4L640.2 731.4L641.2 741.0L642.2 750.0L643.2 758.5L644.1 766.5L645.1 773.8L646.1 780.6L647.1 786.8L648.1 792.3L649.1 797.2L650.1 801.5L651.1 805.2L652.1 808.2L653.1 810.5L654.1 812.2L655.1 813.2L656.1 813.5L657.1 813.2L658.1 812.2L659.1 810.5L660.1 808.2L661.1 805.2L662.1 801.5L663.1 797.2L664.1 792.3L665.1 786.8L666.1 780.6L667.1 773.8L668.1 766.5L669.0 758.5L670.0 750.0L671.0 741.0L672.0 731.4L673.0 721.4L674.0 710.8L675.0 699.8L676.0 688.4L677.0 676.5L678.0 664.2L679.0 651.6L680.0 638.6L681.0 625.4L682.0 611.8L683.0 597.9L684.0 583.9L685.0 569.6L686.0 555.1L687.0 540.5L688.0 525.8L689.0 510.9L690.0 496.1L691.0 481.1L692.0 466.2L693.0 451.4L693.9 436.5L694.9 421.8L695.9 407.2L696.9 392.7L697.9 378.4L698.9 364.4L699.9 350.5L700.9 336.9L701.9 323.7L702.9 310.7L703.9 298.1L704.9 285.8L705.9 273.9L706.9 262.5L707.9 251.5L708.9 240.9L709.9 230.9L710.9 221.3L711.9 212.3L712.9 203.8L713.9 195.8L714.9 188.5L715.9 181.7L716.9 175.5L717.9 170.0L718.8 165.1L719.8 160.8L720.8 157.1L721.8 154.1L722.8 151.8L723.8 150.1L724.8 149.1L725.8 148.8L726.8 149.1L727.8 150.1L728.8 151.8L729.8 154.1L730.8 157.1L731.8 160.8L732.8 165.1L733.8 170.0L734.8 175.5L735.8 181.7L736.8 188.5L737.8 195.8L738.8 203.8L739.8 212.3L740.8 221.3L741.8 230.9L742.8 240.9L743.7 251.5L744.7 262.5L745.7 273.9L746.7 285.8L747.7 298.1L748.7 310.7L749.7 323.7L750.7 336.9L751.7 350.5L752.7 364.4L753.7 378.4L754.7 392.7L755.7 407.2L756.7 421.8L757.7 436.5L758.7 451.4L759.7 466.2L760.7 481.2L761.7 496.1L762.7 510.9L763.7 525.8L764.7 540.5L765.7 555.1L766.7 569.6L767.7 583.9L768.6 597.9L769.6 611.8L770.6 625.4L771.6 638.6L772.6 651.6L773.6 664.2L774.6 676.5L775.6 688.4L776.6 699.8L777.6 710.8L778.6 721.4L779.6 731.4L780.6 741.0L781.6 750.0L782.6 758.5L783.6 766.5L784.6 773.8L785.6 780.6L786.6 786.8L787.6 792.3L788.6 797.2L789.6 801.5L790.6 805.2L791.6 808.2L792.6 810.5L793.5 812.2L794.5 813.2L795.5 813.5L796.5 813.2L797.5 812.2L798.5 810.5L799.5 808.2L800.5 805.2L801.5 801.5L802.5 797.2L803.5 792.3L804.5 786.8L805.5 780.6L806.5 773.8L807.5 766.5L808.5 758.5L809.5 750.0L810.5 741.0L811.5 731.4L812.5 721.4L813.5 710.8L814.5 699.8L815.5 688.4L816.5 676.5L817.5 664.2L818.4 651.6L819.4 638.6L820.4 625.4L821.4 611.8L822.4 597.9L823.4 583.9L824.4 569.6L825.4 555.1L826.4 540.5L827.4 525.8L828.4 510.9L829.4 496.1L830.4 481.2L831.4 466.2L832.4 451.4L833.4 436.5L834.4 421.8L835.4 407.2L836.4 392.7L837.4 378.4L838.4 364.4L839.4 350.5L840.4 336.9L841.4 323.7L842.4 310.7L843.3 298.1L844.3 285.8L845.3 273.9L846.3 262.5L847.3 251.5L848.3 240.9L849.3 230.9L850.3 221.3L851.3 212.3L852.3 203.8L853.3 195.8L854.3 188.5L855.3 181.7L856.3 175.5L857.3 170.0L858.3 165.1L859.3 160.8L860.3 157.1L861.3 154.1L862.3 151.8L863.3 150.1L864.3 149.1L865.3 148.8L866.3 149.1L867.3 150.1L868.2 151.8L869.2 154.1L870.2 157.1L871.2 160.8L872.2 165.1L873.2 170.0L874.2 175.5L875.2 181.7L876.2 188.5L877.2 195.8L878.2 203.8L879.2 212.3L880.2 221.3L881.2 230.9L882.2 240.9L883.2 251.5L884.2 262.5L885.2 273.9L886.2 285.8L887.2 298.1L888.2 310.7L889.2 323.7L890.2 336.9L891.2 350.5L892.2 364.4L893.1 378.4L894.1 392.7L895.1 407.2L896.1 421.8L897.1 436.5L898.1 451.4L899.1 466.2L900.1 481.1L901.1 496.1L902.1 510.9L903.1 525.8L904.1 540.5L905.1 555.1L906.1 569.6L907.1 583.9L908.1 597.9L909.1 611.8L910.1 625.4L911.1 638.6L912.1 651.6L913.1 664.2L914.1 676.5L915.1 688.4L916.1 699.8L917.1 710.8L918.0 721.4L919.0 731.4L920.0 741.0L921.0 750.0L922.0 758.5L923.0 766.5L924.0 773.8L925.0 780.6L926.0 786.8L927.0 792.3L928.0 797.2L929.0 801.5L930.0 805.2L931.0 808.2L932.0 810.5L933.0 812.2L934.0 813.2L935.0 813.5L936.0 813.2L937.0 812.2L938.0 810.5L939.0 808.2L940.0 805.2L941.0 801.5L942.0 797.2L942.9 792.3L943.9 786.8L944.9 780.6L945.9 773.8L946.9 766.5L947.9 758.5L948.9 750.0L949.9 741.0L950.9 731.4L951.9 721.4L952.9 710.8L953.9 699.8L954.9 688.4L955.9 676.5L956.9 664.2L957.9 651.6L958.9 638.6L959.9 625.4L960.9 611.8L961.9 597.9L962.9 583.9L963.9 569.6L964.9 555.1L965.9 540.5L966.9 525.8L967.8 510.9L968.8 496.1L969.8 481.1L970.8 466.2L971.8 451.4L972.8 436.5L973.8 421.8L974.8 407.2L975.8 392.7L976.8 378.4L977.8 364.4L978.8 350.5L979.8 336.9L980.8 323.7L981.8 310.7L982.8 298.1L983.8 285.8L984.8 273.9L985.8 262.5L986.8 251.5L987.8 240.9L988.8 230.9L989.8 221.3L990.8 212.3L991.8 203.8L992.7 195.8L993.7 188.5L994.7 181.7L995.7 175.5L996.7 170.0L997.7 165.1L998.7 160.8L999.7 157.1L1000.7 154.1L1001.7 151.8L1002.7 150.1L1003.7 149.1L1004.7 148.8L1005.7 149.1L1006.7 150.1L1007.7 151.8L1008.7 154.1L1009.7 157.1L1010.7 160.8L1011.7 165.1L1012.7 170.0L1013.7 175.5L1014.7 181.7L1015.7 188.5L1016.7 195.8L1017.6 203.8L1018.6 212.3L1019.6 221.3L1020.6 230.9L1021.6 240.9L1022.6 251.5L1023.6 262.5L1024.6 273.9L1025.6 285.8L1026.6 298.1L1027.6 310.7L1028.6 323.7L1029.6 336.9L1030.6 350.5L1031.6 364.4L1032.6 378.4L1033.6 392.7L1034.6 407.2L1035.6 421.8L1036.6 436.5L1037.6 451.4L1038.6 466.2L1039.6 481.2L1040.6 496.1L1041.6 510.9L1042.5 525.8L1043.5 540.5L1044.5 555.1L1045.5 569.6L1046.5 583.9L1047.5 597.9L1048.5 611.8L1049.5 625.4L1050.5 638.6L1051.5 651.6L1052.5 664.2L1053.5 676.5L1054.5 688.4L1055.5 699.8L1056.5 710.8L1057.5 721.4L1058.5 731.4L1059.5 741.0L1060.5 750.0L1061.5 758.5L1062.5 766.5L1063.5 773.8L1064.5 780.6L1065.5 786.8L1066.5 792.3L1067.4 797.2L1068.4 801.5L1069.4 805.2L1070.4 808.2L1071.4 810.5L1072.4 812.2L1073.4 813.2L1074.4 813.5L1075.4 813.2L1076.4 812.2L1077.4 810.5L1078.4 808.2L1079.4 805.2L1080.4 801.5L1081.4 797.2L1082.4 792.3L1083.4 786.8L1084.4 780.6L1085.4 773.8L1086.4 766.5L1087.4 758.5L1088.4 750.0L1089.4 741.0L1090.4 731.4L1091.4 721.4L1092.3 710.8L1093.3 699.8L1094.3 688.4L1095.3 676.5L1096.3 664.2L1097.3 651.6L1098.3 638.6L1099.3 625.4L1100.3 611.8L1101.3 597.9L1102.3 583.9L1103.3 569.6L1104.3 555.1L1105.3 540.5L1106.3 525.8L1107.3 510.9L1108.3 496.1L1109.3 481.2L1110.3 466.2L1111.3 451.4L1112.3 436.5L1113.3 421.8L1114.3 407.2L1115.3 392.7L1116.3 378.4L1117.2 364.4L1118.2 350.5L1119.2 336.9L1120.2 323.7L1121.2 310.7L1122.2 298.1L1123.2 285.8L1124.2 273.9L1125.2 262.5L1126.2 251.5L1127.2 240.9L1128.2 230.9L1129.2 221.3L1130.2 212.3L1131.2 203.8L1132.2 195.8L1133.2 188.5L1134.2 181.7L1135.2 175.5L1136.2 170.0L1137.2 165.1L1138.2 160.8L1139.2 157.1L1140.2 154.1L1141.2 151.8L1142.1 150.1L1143.1 149.1L1144.1 148.8L1145.1 149.1L1146.1 150.1L1147.1 151.8L1148.1 154.1L1149.1 157.1L1150.1 160.8L1151.1 165.1L1152.1 170.0L1153.1 175.5L1154.1 181.7L1155.1 188.5L1156.1 195.8L1157.1 203.8L1158.1 212.3L1159.1 221.3L1160.1 230.9L1161.1 240.9L1162.1 251.5L1163.1 262.5L1164.1 273.9L1165.1 285.8L1166.1 298.1L1167.0 310.7L1168.0 323.7L1169.0 336.9L1170.0 350.5L1171.0 364.4L1172.0 378.4L1173.0 392.7L1174.0 407.2L1175.0 421.8L1176.0 436.5L1177.0 451.4L1178.0 466.2L1179.0 481.2L1180.0 496.1L1181.0 510.9L1182.0 525.8L1183.0 540.5L1184.0 555.1L1185.0 569.6L1186.0 583.9L1187.0 597.9L1188.0 611.8L1189.0 625.4L1190.0 638.6L1191.0 651.6L1191.9 664.2L1192.9 676.5L1193.9 688.4L1194.9 699.8L1195.9 710.8L1196.9 721.4L1197.9 731.4L1198.9 741.0L1199.9 750.0L1200.9 758.5L1201.9 766.5L1202.9 773.8L1203.9 780.6L1204.9 786.8L1205.9 792.3L1206.9 797.2L1207.9 801.5L1208.9 805.2L1209.9 808.2L1210.9 810.5L1211.9 812.2L1212.9 813.2L1213.9 813.5L1214.9 813.2L1215.9 812.2L1216.8 810.5L1217.8 808.2L1218.8 805.2L1219.8 801.5L1220.8 797.2L1221.8 792.3L1222.8 786.8L1223.8 780.6L1224.8 773.8L1225.8 766.5L1226.8 758.5L1227.8 750.0L1228.8 741.0L1229.8 731.4L1230.8 721.4L1231.8 710.8L1232.8 699.8L1233.8 688.4L1234.8 676.5L1235.8 664.2L1236.8 651.6L1237.8 638.6L1238.8 625.4L1239.8 611.8L1240.8 597.9L1241.7 583.9L1242.7 569.6L1243.7 555.1L1244.7 540.5L1245.7 525.8L1246.7 510.9L1247.7 496.1L1248.7 481.2L1249.7 466.2L1250.7 451.4L1251.7 436.5L1252.7 421.8L1253.7 407.2L1254.7 392.7L1255.7 378.4L1256.7 364.4L1257.7 350.5L1258.7 336.9L1259.7 323.7L1260.7 310.7L1261.7 298.1L1262.7 285.8L1263.7 273.9L1264.7 262.5L1265.7 251.5L1266.6 240.9L1267.6 230.9L1268.6 221.3L1269.6 212.3L1270.6 203.8L1271.6 195.8L1272.6 188.5L1273.6 181.7L1274.6 175.5L1275.6 170.0L1276.6 165.1L1277.6 160.8L1278.6 157.1L1279.6 154.1L1280.6 151.8L1281.6 150.1L1282.6 149.1L1283.6 148.8L1284.6 149.1L1285.6 150.1L1286.6 151.8L1287.6 154.1L1288.6 157.1L1289.6 160.8L1290.6 165.1L1291.5 170.0L1292.5 175.5L1293.5 181.7L1294.5 188.5L1295.5 195.8L1296.5 203.8L1297.5 212.3L1298.5 221.3L1299.5 230.9L1300.5 240.9L1301.5 251.5L1302.5 262.5L1303.5 273.9L1304.5 285.8L1305.5 298.1L1306.5 310.7L1307.5 323.7L1308.5 336.9L1309.5 350.5L1310.5 364.4L1311.5 378.4L1312.5 392.7L1313.5 407.2L1314.5 421.8L1315.5 436.5L1316.4 451.4L1317.4 466.2L1318.4 481.2L1319.4 496.1L1320.4 510.9L1321.4 525.8L1322.4 540.5L1323.4 555.1L1324.4 569.6L1325.4 583.9L1326.4 597.9L1327.4 611.8" fill="none" stroke="#f7707f" stroke-width="5.6"/><path d="M307.5 148.8L308.5 149.1L309.5 150.1L310.5 151.8L311.5 154.1L312.5 157.1L313.5 160.8L314.5 165.1L315.5 170.0L316.5 175.5L317.5 181.7L318.5 188.5L319.5 195.8L320.4 203.8L321.4 212.3L322.4 221.3L323.4 230.9L324.4 240.9L325.4 251.5L326.4 262.5L327.4 273.9L328.4 285.8L329.4 298.1L330.4 310.7L331.4 323.7L332.4 336.9L333.4 350.5L334.4 364.4L335.4 378.4L336.4 392.7L337.4 407.2L338.4 421.8L339.4 436.5L340.4 451.4L341.4 466.2L342.4 481.2L343.4 496.1L344.4 510.9L345.3 525.8L346.3 540.5L347.3 555.1L348.3 569.6L349.3 583.9L350.3 597.9L351.3 611.8L352.3 625.4L353.3 638.6L354.3 651.6L355.3 664.2L356.3 676.5L357.3 688.4L358.3 699.8L359.3 710.8L360.3 721.4L361.3 731.4L362.3 741.0L363.3 750.0L364.3 758.5L365.3 766.5L366.3 773.8L367.3 780.6L368.3 786.8L369.3 792.3L370.2 797.2L371.2 801.5L372.2 805.2L373.2 808.2L374.2 810.5L375.2 812.2L376.2 813.2L377.2 813.5L378.2 813.2L379.2 812.2L380.2 810.5L381.2 808.2L382.2 805.2L383.2 801.5L384.2 797.2L385.2 792.3L386.2 786.8L387.2 780.6L388.2 773.8L389.2 766.5L390.2 758.5L391.2 750.0L392.2 741.0L393.2 731.4L394.2 721.4L395.1 710.8L396.1 699.8L397.1 688.4L398.1 676.5L399.1 664.2L400.1 651.6L401.1 638.6L402.1 625.4L403.1 611.8L404.1 597.9L405.1 583.9L406.1 569.6L407.1 555.1L408.1 540.5L409.1 525.8L410.1 510.9L411.1 496.1L412.1 481.2L413.1 466.2L414.1 451.4L415.1 436.5L416.1 421.8L417.1 407.2L418.1 392.7L419.1 378.4L420.0 364.4L421.0 350.5L422.0 336.9L423.0 323.7L424.0 310.7L425.0 298.1L426.0 285.8L427.0 273.9L428.0 262.5L429.0 251.5L430.0 240.9L431.0 230.9L432.0 221.3L433.0 212.3L434.0 203.8L435.0 195.8L436.0 188.5L437.0 181.7L438.0 175.5L439.0 170.0L440.0 165.1L441.0 160.8L442.0 157.1L443.0 154.1L444.0 151.8L444.9 150.1L445.9 149.1L446.9 148.8L447.9 149.1L448.9 150.1L449.9 151.8L450.9 154.1L451.9 157.1L452.9 160.8L453.9 165.1L454.9 170.0L455.9 175.5L456.9 181.7L457.9 188.5L458.9 195.8L459.9 203.8L460.9 212.3L461.9 221.3L462.9 230.9L463.9 240.9L464.9 251.5L465.9 262.5L466.9 273.9L467.9 285.8L468.9 298.1L469.8 310.7L470.8 323.7L471.8 336.9L472.8 350.5L473.8 364.4L474.8 378.4L475.8 392.7L476.8 407.2L477.8 421.8L478.8 436.5L479.8 451.4L480.8 466.2L481.8 481.1L482.8 496.1L483.8 510.9L484.8 525.8L485.8 540.5L486.8 555.1L487.8 569.6L488.8 583.9L489.8 597.9L490.8 611.8L491.8 625.4L492.8 638.6L493.8 651.6L494.7 664.2L495.7 676.5L496.7 688.4L497.7 699.8L498.7 710.8L499.7 721.4L500.7 731.4L501.7 741.0L502.7 750.0L503.7 758.5L504.7 766.5L505.7 773.8L506.7 780.6L507.7 786.8L508.7 792.3L509.7 797.2L510.7 801.5L511.7 805.2L512.7 808.2L513.7 810.5L514.7 812.2L515.7 813.2L516.7 813.5L517.7 813.2L518.7 812.2L519.6 810.5L520.6 808.2L521.6 805.2L522.6 801.5L523.6 797.2L524.6 792.3L525.6 786.8L526.6 780.6L527.6 773.8L528.6 766.5L529.6 758.5L530.6 750.0L531.6 741.0L532.6 731.4L533.6 721.4L534.6 710.8L535.6 699.8L536.6 688.4L537.6 676.5L538.6 664.2L539.6 651.6L540.6 638.6L541.6 625.4L542.6 611.8L543.6 597.9L544.5 583.9L545.5 569.6L546.5 555.1L547.5 540.5L548.5 525.8L549.5 510.9L550.5 496.1L551.5 481.2L552.5 466.2L553.5 451.4L554.5 436.5L555.5 421.8L556.5 407.2L557.5 392.7L558.5 378.4L559.5 364.4L560.5 350.5L561.5 336.9L562.5 323.7L563.5 310.7L564.5 298.1L565.5 285.8L566.5 273.9L567.5 262.5L568.5 251.5L569.4 240.9L570.4 230.9L571.4 221.3L572.4 212.3L573.4 203.8L574.4 195.8L575.4 188.5L576.4 181.7L577.4 175.5L578.4 170.0L579.4 165.1L580.4 160.8L581.4 157.1L582.4 154.1L583.4 151.8L584.4 150.1L585.4 149.1L586.4 148.8L587.4 149.1L588.4 150.1L589.4 151.8L590.4 154.1L591.4 157.1L592.4 160.8L593.4 165.1L594.3 170.0L595.3 175.5L596.3 181.7L597.3 188.5L598.3 195.8L599.3 203.8L600.3 212.3L601.3 221.3L602.3 230.9L603.3 240.9L604.3 251.5L605.3 262.5L606.3 273.9L607.3 285.8L608.3 298.1L609.3 310.7L610.3 323.7L611.3 336.9L612.3 350.5L613.3 364.4L614.3 378.4L615.3 392.7L616.3 407.2L617.3 421.8L618.3 436.5L619.2 451.4L620.2 466.2L621.2 481.1L622.2 496.1L623.2 510.9L624.2 525.8L625.2 540.5L626.2 555.1L627.2 569.6L628.2 583.9L629.2 597.9L630.2 611.8L631.2 625.4L632.2 638.6L633.2 651.6L634.2 664.2L635.2 676.5L636.2 688.4L637.2 699.8L638.2 710.8L639.2 721.4L640.2 731.4L641.2 741.0L642.2 750.0L643.2 758.5L644.1 766.5L645.1 773.8L646.1 780.6L647.1 786.8L648.1 792.3L649.1 797.2L650.1 801.5L651.1 805.2L652.1 808.2L653.1 810.5L654.1 812.2L655.1 813.2L656.1 813.5L657.1 813.2L658.1 812.2L659.1 810.5L660.1 808.2L661.1 805.2L662.1 801.5L663.1 797.2L664.1 792.3L665.1 786.8L666.1 780.6L667.1 773.8L668.1 766.5L669.0 758.5L670.0 750.0L671.0 741.0L672.0 731.4L673.0 721.4L674.0 710.8L675.0 699.8L676.0 688.4L677.0 676.5L678.0 664.2L679.0 651.6L680.0 638.6L681.0 625.4L682.0 611.8L683.0 597.9L684.0 583.9L685.0 569.6L686.0 555.1L687.0 540.5L688.0 525.8L689.0 510.9L690.0 496.1L691.0 481.1L692.0 466.2L693.0 451.4L693.9 436.5L694.9 421.8L695.9 407.2L696.9 392.7L697.9 378.4L698.9 364.4L699.9 350.5L700.9 336.9L701.9 323.7L702.9 310.7L703.9 298.1L704.9 285.8L705.9 273.9L706.9 262.5L707.9 251.5L708.9 240.9L709.9 230.9L710.9 221.3L711.9 212.3L712.9 203.8L713.9 195.8L714.9 188.5L715.9 181.7L716.9 175.5L717.9 170.0L718.8 165.1L719.8 160.8L720.8 157.1L721.8 154.1L722.8 151.8L723.8 150.1L724.8 149.1L725.8 148.8L726.8 149.1L727.8 150.1L728.8 151.8L729.8 154.1L730.8 157.1L731.8 160.8L732.8 165.1L733.8 170.0L734.8 175.5L735.8 181.7L736.8 188.5L737.8 195.8L738.8 203.8L739.8 212.3L740.8 221.3L741.8 230.9L742.8 240.9L743.7 251.5L744.7 262.5L745.7 273.9L746.7 285.8L747.7 298.1L748.7 310.7L749.7 323.7L750.7 336.9L751.7 350.5L752.7 364.4L753.7 378.4L754.7 392.7L755.7 407.2L756.7 421.8L757.7 436.5L758.7 451.4L759.7 466.2L760.7 481.2L761.7 496.1L762.7 510.9L763.7 525.8L764.7 540.5L765.7 555.1L766.7 569.6L767.7 583.9L768.6 597.9L769.6 611.8L770.6 625.4L771.6 638.6L772.6 651.6L773.6 664.2L774.6 676.5L775.6 688.4L776.6 699.8L777.6 710.8L778.6 721.4L779.6 731.4L780.6 741.0L781.6 750.0L782.6 758.5L783.6 766.5L784.6 773.8L785.6 780.6L786.6 786.8L787.6 792.3L788.6 797.2L789.6 801.5L790.6 805.2L791.6 808.2L792.6 810.5L793.5 812.2L794.5 813.2L795.5 813.5L796.5 813.2L797.5 812.2L798.5 810.5L799.5 808.2L800.5 805.2L801.5 801.5L802.5 797.2L803.5 792.3L804.5 786.8L805.5 780.6L806.5 773.8L807.5 766.5L808.5 758.5L809.5 750.0L810.5 741.0L811.5 731.4L812.5 721.4L813.5 710.8L814.5 699.8L815.5 688.4L816.5 676.5L817.5 664.2L818.4 651.6L819.4 638.6L820.4 625.4L821.4 611.8L822.4 597.9L823.4 583.9L824.4 569.6L825.4 555.1L826.4 540.5L827.4 525.8L828.4 510.9L829.4 496.1L830.4 481.2L831.4 466.2L832.4 451.4L833.4 436.5L834.4 421.8L835.4 407.2L836.4 392.7L837.4 378.4L838.4 364.4L839.4 350.5L840.4 336.9L841.4 323.7L842.4 310.7L843.3 298.1L844.3 285.8L845.3 273.9L846.3 262.5L847.3 251.5L848.3 240.9L849.3 230.9L850.3 221.3L851.3 212.3L852.3 203.8L853.3 195.8L854.3 188.5L855.3 181.7L856.3 175.5L857.3 170.0L858.3 165.1L859.3 160.8L860.3 157.1L861.3 154.1L862.3 151.8L863.3 150.1L864.3 149.1L865.3 148.8L866.3 149.1L867.3 150.1L868.2 151.8L869.2 154.1L870.2 157.1L871.2 160.8L872.2 165.1L873.2 170.0L874.2 175.5L875.2 181.7L876.2 188.5L877.2 195.8L878.2 203.8L879.2 212.3L880.2 221.3L881.2 230.9L882.2 240.9L883.2 251.5L884.2 262.5L885.2 273.9L886.2 285.8L887.2 298.1L888.2 310.7L889.2 323.7L890.2 336.9L891.2 350.5L892.2 364.4L893.1 378.4L894.1 392.7L895.1 407.2L896.1 421.8L897.1 436.5L898.1 451.4L899.1 466.2L900.1 481.1L901.1 496.1L902.1 510.9L903.1 525.8L904.1 540.5L905.1 555.1L906.1 569.6L907.1 583.9L908.1 597.9L909.1 611.8L910.1 625.4L911.1 638.6L912.1 651.6L913.1 664.2L914.1 676.5L915.1 688.4L916.1 699.8L917.1 710.8L918.0 721.4L919.0 731.4L920.0 741.0L921.0 750.0L922.0 758.5L923.0 766.5L924.0 773.8L925.0 780.6L926.0 786.8L927.0 792.3L928.0 797.2L929.0 801.5L930.0 805.2L931.0 808.2L932.0 810.5L933.0 812.2L934.0 813.2L935.0 813.5L936.0 813.2L937.0 812.2L938.0 810.5L939.0 808.2L940.0 805.2L941.0 801.5L942.0 797.2L942.9 792.3L943.9 786.8L944.9 780.6L945.9 773.8L946.9 766.5L947.9 758.5L948.9 750.0L949.9 741.0L950.9 731.4L951.9 721.4L952.9 710.8L953.9 699.8L954.9 688.4L955.9 676.5L956.9 664.2L957.9 651.6L958.9 638.6L959.9 625.4L960.9 611.8L961.9 597.9L962.9 583.9L963.9 569.6L964.9 555.1L965.9 540.5L966.9 525.8L967.8 510.9L968.8 496.1L969.8 481.1L970.8 466.2L971.8 451.4L972.8 436.5L973.8 421.8L974.8 407.2L975.8 392.7L976.8 378.4L977.8 364.4L978.8 350.5L979.8 336.9L980.8 323.7L981.8 310.7L982.8 298.1L983.8 285.8L984.8 273.9L985.8 262.5L986.8 251.5L987.8 240.9L988.8 230.9L989.8 221.3L990.8 212.3L991.8 203.8L992.7 195.8L993.7 188.5L994.7 181.7L995.7 175.5L996.7 170.0L997.7 165.1L998.7 160.8L999.7 157.1L1000.7 154.1L1001.7 151.8L1002.7 150.1L1003.7 149.1L1004.7 148.8L1005.7 149.1L1006.7 150.1L1007.7 151.8L1008.7 154.1L1009.7 157.1L1010.7 160.8L1011.7 165.1L1012.7 170.0L1013.7 175.5L1014.7 181.7L1015.7 188.5L1016.7 195.8L1017.6 203.8L1018.6 212.3L1019.6 221.3L1020.6 230.9L1021.6 240.9L1022.6 251.5L1023.6 262.5L1024.6 273.9L1025.6 285.8L1026.6 298.1L1027.6 310.7L1028.6 323.7L1029.6 336.9L1030.6 350.5L1031.6 364.4L1032.6 378.4L1033.6 392.7L1034.6 407.2L1035.6 421.8L1036.6 436.5L1037.6 451.4L1038.6 466.2L1039.6 481.2L1040.6 496.1L1041.6 510.9L1042.5 525.8L1043.5 540.5L1044.5 555.1L1045.5 569.6L1046.5 583.9L1047.5 597.9L1048.5 611.8L1049.5 625.4L1050.5 638.6L1051.5 651.6L1052.5 664.2L1053.5 676.5L1054.5 688.4L1055.5 699.8L1056.5 710.8L1057.5 721.4L1058.5 731.4L1059.5 741.0L1060.5 750.0L1061.5 758.5L1062.5 766.5L1063.5 773.8L1064.5 780.6L1065.5 786.8L1066.5 792.3L1067.4 797.2L1068.4 801.5L1069.4 805.2L1070.4 808.2L1071.4 810.5L1072.4 812.2L1073.4 813.2L1074.4 813.5L1075.4 813.2L1076.4 812.2L1077.4 810.5L1078.4 808.2L1079.4 805.2L1080.4 801.5L1081.4 797.2L1082.4 792.3L1083.4 786.8L1084.4 780.6L1085.4 773.8L1086.4 766.5L1087.4 758.5L1088.4 750.0L1089.4 741.0L1090.4 731.4L1091.4 721.4L1092.3 710.8L1093.3 699.8L1094.3 688.4L1095.3 676.5L1096.3 664.2L1097.3 651.6L1098.3 638.6L1099.3 625.4L1100.3 611.8L1101.3 597.9L1102.3 583.9L1103.3 569.6L1104.3 555.1L1105.3 540.5L1106.3 525.8L1107.3 510.9L1108.3 496.1L1109.3 481.2L1110.3 466.2L1111.3 451.4L1112.3 436.5L1113.3 421.8L1114.3 407.2L1115.3 392.7L1116.3 378.4L1117.2 364.4L1118.2 350.5L1119.2 336.9L1120.2 323.7L1121.2 310.7L1122.2 298.1L1123.2 285.8L1124.2 273.9L1125.2 262.5L1126.2 251.5L1127.2 240.9L1128.2 230.9L1129.2 221.3L1130.2 212.3L1131.2 203.8L1132.2 195.8L1133.2 188.5L1134.2 181.7L1135.2 175.5L1136.2 170.0L1137.2 165.1L1138.2 160.8L1139.2 157.1L1140.2 154.1L1141.2 151.8L1142.1 150.1L1143.1 149.1L1144.1 148.8L1145.1 149.1L1146.1 150.1L1147.1 151.8L1148.1 154.1L1149.1 157.1L1150.1 160.8L1151.1 165.1L1152.1 170.0L1153.1 175.5L1154.1 181.7L1155.1 188.5L1156.1 195.8L1157.1 203.8L1158.1 212.3L1159.1 221.3L1160.1 230.9L1161.1 240.9L1162.1 251.5L1163.1 262.5L1164.1 273.9L1165.1 285.8L1166.1 298.1L1167.0 310.7L1168.0 323.7L1169.0 336.9L1170.0 350.5L1171.0 364.4L1172.0 378.4L1173.0 392.7L1174.0 407.2L1175.0 421.8L1176.0 436.5L1177.0 451.4L1178.0 466.2L1179.0 481.2L1180.0 496.1L1181.0 510.9L1182.0 525.8L1183.0 540.5L1184.0 555.1L1185.0 569.6L1186.0 583.9L1187.0 597.9L1188.0 611.8L1189.0 625.4L1190.0 638.6L1191.0 651.6L1191.9 664.2L1192.9 676.5L1193.9 688.4L1194.9 699.8L1195.9 710.8L1196.9 721.4L1197.9 731.4L1198.9 741.0L1199.9 750.0L1200.9 758.5L1201.9 766.5L1202.9 773.8L1203.9 780.6L1204.9 786.8L1205.9 792.3L1206.9 797.2L1207.9 801.5L1208.9 805.2L1209.9 808.2L1210.9 810.5L1211.9 812.2L1212.9 813.2L1213.9 813.5L1214.9 813.2L1215.9 812.2L1216.8 810.5L1217.8 808.2L1218.8 805.2L1219.8 801.5L1220.8 797.2L1221.8 792.3L1222.8 786.8L1223.8 780.6L1224.8 773.8L1225.8 766.5L1226.8 758.5L1227.8 750.0L1228.8 741.0L1229.8 731.4L1230.8 721.4L1231.8 710.8L1232.8 699.8L1233.8 688.4L1234.8 676.5L1235.8 664.2L1236.8 651.6L1237.8 638.6L1238.8 625.4L1239.8 611.8L1240.8 597.9L1241.7 583.9L1242.7 569.6L1243.7 555.1L1244.7 540.5L1245.7 525.8L1246.7 510.9L1247.7 496.1L1248.7 481.2L1249.7 466.2L1250.7 451.4L1251.7 436.5L1252.7 421.8L1253.7 407.2L1254.7 392.7L1255.7 378.4L1256.7 364.4L1257.7 350.5L1258.7 336.9L1259.7 323.7L1260.7 310.7L1261.7 298.1L1262.7 285.8L1263.7 273.9L1264.7 262.5L1265.7 251.5L1266.6 240.9L1267.6 230.9L1268.6 221.3L1269.6 212.3L1270.6 203.8L1271.6 195.8L1272.6 188.5L1273.6 181.7L1274.6 175.5L1275.6 170.0L1276.6 165.1L1277.6 160.8L1278.6 157.1L1279.6 154.1L1280.6 151.8L1281.6 150.1L1282.6 149.1L1283.6 148.8L1284.6 149.1L1285.6 150.1L1286.6 151.8L1287.6 154.1L1288.6 157.1L1289.6 160.8L1290.6 165.1L1291.5 170.0L1292.5 175.5L1293.5 181.7L1294.5 188.5L1295.5 195.8L1296.5 203.8L1297.5 212.3L1298.5 221.3L1299.5 230.9L1300.5 240.9L1301.5 251.5L1302.5 262.5L1303.5 273.9L1304.5 285.8L1305.5 298.1L1306.5 310.7L1307.5 323.7L1308.5 336.9L1309.5 350.5L1310.5 364.4L1311.5 378.4L1312.5 392.7L1313.5 407.2L1314.5 421.8L1315.5 436.5L1316.4 451.4L1317.4 466.2L1318.4 481.2L1319.4 496.1L1320.4 510.9L1321.4 525.8L1322.4 540.5L1323.4 555.1L1324.4 569.6L1325.4 583.9L1326.4 597.9L1327.4 611.8" fill="none" stroke="#d82636" stroke-width="2.6"/><path d="M307.5 148.8L308.5 149.1L309.5 150.1L310.5 151.8L311.5 154.1L312.5 157.1L313.5 160.8L314.5 165.1L315.5 170.0L316.5 175.5L317.5 181.7L318.5 188.5L319.5 195.8L320.4 203.8L321.4 212.3L322.4 221.3L323.4 230.9L324.4 240.9L325.4 251.5L326.4 262.5L327.4 273.9L328.4 285.8L329.4 298.1L330.4 310.7L331.4 323.7L332.4 336.9L333.4 350.5L334.4 364.4L335.4 378.4L336.4 392.7L337.4 407.2L338.4 421.8L339.4 436.5L340.4 451.4L341.4 466.2L342.4 481.2L343.4 496.1L344.4 510.9L345.3 525.8L346.3 540.5L347.3 555.1L348.3 569.6L349.3 583.9L350.3 597.9L351.3 611.8L352.3 625.4L353.3 638.6L354.3 651.6L355.3 664.2L356.3 676.5L357.3 688.4L358.3 699.8L359.3 710.8L360.3 721.4L361.3 731.4L362.3 741.0L363.3 750.0L364.3 758.5L365.3 766.5L366.3 773.8L367.3 780.6L368.3 786.8L369.3 792.3L370.2 797.2L371.2 801.5L372.2 805.2L373.2 808.2L374.2 810.5L375.2 812.2L376.2 813.2L377.2 813.5L378.2 813.2L379.2 812.2L380.2 810.5L381.2 808.2L382.2 805.2L383.2 801.5L384.2 797.2L385.2 792.3L386.2 786.8L387.2 780.6L388.2 773.8L389.2 766.5L390.2 758.5L391.2 750.0L392.2 741.0L393.2 731.4L394.2 721.4L395.1 710.8L396.1 699.8L397.1 688.4L398.1 676.5L399.1 664.2L400.1 651.6L401.1 638.6L402.1 625.4L403.1 611.8L404.1 597.9L405.1 583.9L406.1 569.6L407.1 555.1L408.1 540.5L409.1 525.8L410.1 510.9L411.1 496.1L412.1 481.2L413.1 466.2L414.1 451.4L415.1 436.5L416.1 421.8L417.1 407.2L418.1 392.7L419.1 378.4L420.0 364.4L421.0 350.5L422.0 336.9L423.0 323.7L424.0 310.7L425.0 298.1L426.0 285.8L427.0 273.9L428.0 262.5L429.0 251.5L430.0 240.9L431.0 230.9L432.0 221.3L433.0 212.3L434.0 203.8L435.0 195.8L436.0 188.5L437.0 181.7L438.0 175.5L439.0 170.0L440.0 165.1L441.0 160.8L442.0 157.1L443.0 154.1L444.0 151.8L444.9 150.1L445.9 149.1L446.9 148.8L447.9 149.1L448.9 150.1L449.9 151.8L450.9 154.1L451.9 157.1L452.9 160.8L453.9 165.1L454.9 170.0L455.9 175.5L456.9 181.7L457.9 188.5L458.9 195.8L459.9 203.8L460.9 212.3L461.9 221.3L462.9 230.9L463.9 240.9L464.9 251.5L465.9 262.5L466.9 273.9L467.9 285.8L468.9 298.1L469.8 310.7L470.8 323.7L471.8 336.9L472.8 350.5L473.8 364.4L474.8 378.4L475.8 392.7L476.8 407.2L477.8 421.8L478.8 436.5L479.8 451.4L480.8 466.2L481.8 481.1L482.8 496.1L483.8 510.9L484.8 525.8L485.8 540.5L486.8 555.1L487.8 569.6L488.8 583.9L489.8 597.9L490.8 611.8L491.8 625.4L492.8 638.6L493.8 651.6L494.7 664.2L495.7 676.5L496.7 688.4L497.7 699.8L498.7 710.8L499.7 721.4L500.7 731.4L501.7 741.0L502.7 750.0L503.7 758.5L504.7 766.5L505.7 773.8L506.7 780.6L507.7 786.8L508.7 792.3L509.7 797.2L510.7 801.5L511.7 805.2L512.7 808.2L513.7 810.5L514.7 812.2L515.7 813.2L516.7 813.5L517.7 813.2L518.7 812.2L519.6 810.5L520.6 808.2L521.6 805.2L522.6 801.5L523.6 797.2L524.6 792.3L525.6 786.8L526.6 780.6L527.6 773.8L528.6 766.5L529.6 758.5L530.6 750.0L531.6 741.0L532.6 731.4L533.6 721.4L534.6 710.8L535.6 699.8L536.6 688.4L537.6 676.5L538.6 664.2L539.6 651.6L540.6 638.6L541.6 625.4L542.6 611.8L543.6 597.9L544.5 583.9L545.5 569.6L546.5 555.1L547.5 540.5L548.5 525.8L549.5 510.9L550.5 496.1L551.5 481.2L552.5 466.2L553.5 451.4L554.5 436.5L555.5 421.8L556.5 407.2L557.5 392.7L558.5 378.4L559.5 364.4L560.5 350.5L561.5 336.9L562.5 323.7L563.5 310.7L564.5 298.1L565.5 285.8L566.5 273.9L567.5 262.5L568.5 251.5L569.4 240.9L570.4 230.9L571.4 221.3L572.4 212.3L573.4 203.8L574.4 195.8L575.4 188.5L576.4 181.7L577.4 175.5L578.4 170.0L579.4 165.1L580.4 160.8L581.4 157.1L582.4 154.1L583.4 151.8L584.4 150.1L585.4 149.1L586.4 148.8L587.4 149.1L588.4 150.1L589.4 151.8L590.4 154.1L591.4 157.1L592.4 160.8L593.4 165.1L594.3 170.0L595.3 175.5L596.3 181.7L597.3 188.5L598.3 195.8L599.3 203.8L600.3 212.3L601.3 221.3L602.3 230.9L603.3 240.9L604.3 251.5L605.3 262.5L606.3 273.9L607.3 285.8L608.3 298.1L609.3 310.7L610.3 323.7L611.3 336.9L612.3 350.5L613.3 364.4L614.3 378.4L615.3 392.7L616.3 407.2L617.3 421.8L618.3 436.5L619.2 451.4L620.2 466.2L621.2 481.1L622.2 496.1L623.2 510.9L624.2 525.8L625.2 540.5L626.2 555.1L627.2 569.6L628.2 583.9L629.2 597.9L630.2 611.8L631.2 625.4L632.2 638.6L633.2 651.6L634.2 664.2L635.2 676.5L636.2 688.4L637.2 699.8L638.2 710.8L639.2 721.4L640.2 731.4L641.2 741.0L642.2 750.0L643.2 758.5L644.1 766.5L645.1 773.8L646.1 780.6L647.1 786.8L648.1 792.3L649.1 797.2L650.1 801.5L651.1 805.2L652.1 808.2L653.1 810.5L654.1 812.2L655.1 813.2L656.1 813.5L657.1 813.2L658.1 812.2L659.1 810.5L660.1 808.2L661.1 805.2L662.1 801.5L663.1 797.2L664.1 792.3L665.1 786.8L666.1 780.6L667.1 773.8L668.1 766.5L669.0 758.5L670.0 750.0L671.0 741.0L672.0 731.4L673.0 721.4L674.0 710.8L675.0 699.8L676.0 688.4L677.0 676.5L678.0 664.2L679.0 651.6L680.0 638.6L681.0 625.4L682.0 611.8L683.0 597.9L684.0 583.9L685.0 569.6L686.0 555.1L687.0 540.5L688.0 525.8L689.0 510.9L690.0 496.1L691.0 481.1L692.0 466.2L693.0 451.4L693.9 436.5L694.9 421.8L695.9 407.2L696.9 392.7L697.9 378.4L698.9 364.4L699.9 350.5L700.9 336.9L701.9 323.7L702.9 310.7L703.9 298.1L704.9 285.8L705.9 273.9L706.9 262.5L707.9 251.5L708.9 240.9L709.9 230.9L710.9 221.3L711.9 212.3L712.9 203.8L713.9 195.8L714.9 188.5L715.9 181.7L716.9 175.5L717.9 170.0L718.8 165.1L719.8 160.8L720.8 157.1L721.8 154.1L722.8 151.8L723.8 150.1L724.8 149.1L725.8 148.8L726.8 149.1L727.8 150.1L728.8 151.8L729.8 154.1L730.8 157.1L731.8 160.8L732.8 165.1L733.8 170.0L734.8 175.5L735.8 181.7L736.8 188.5L737.8 195.8L738.8 203.8L739.8 212.3L740.8 221.3L741.8 230.9L742.8 240.9L743.7 251.5L744.7 262.5L745.7 273.9L746.7 285.8L747.7 298.1L748.7 310.7L749.7 323.7L750.7 336.9L751.7 350.5L752.7 364.4L753.7 378.4L754.7 392.7L755.7 407.2L756.7 421.8L757.7 436.5L758.7 451.4L759.7 466.2L760.7 481.2L761.7 496.1L762.7 510.9L763.7 525.8L764.7 540.5L765.7 555.1L766.7 569.6L767.7 583.9L768.6 597.9L769.6 611.8L770.6 625.4L771.6 638.6L772.6 651.6L773.6 664.2L774.6 676.5L775.6 688.4L776.6 699.8L777.6 710.8L778.6 721.4L779.6 731.4L780.6 741.0L781.6 750.0L782.6 758.5L783.6 766.5L784.6 773.8L785.6 780.6L786.6 786.8L787.6 792.3L788.6 797.2L789.6 801.5L790.6 805.2L791.6 808.2L792.6 810.5L793.5 812.2L794.5 813.2L795.5 813.5L796.5 813.2L797.5 812.2L798.5 810.5L799.5 808.2L800.5 805.2L801.5 801.5L802.5 797.2L803.5 792.3L804.5 786.8L805.5 780.6L806.5 773.8L807.5 766.5L808.5 758.5L809.5 750.0L810.5 741.0L811.5 731.4L812.5 721.4L813.5 710.8L814.5 699.8L815.5 688.4L816.5 676.5L817.5 664.2L818.4 651.6L819.4 638.6L820.4 625.4L821.4 611.8L822.4 597.9L823.4 583.9L824.4 569.6L825.4 555.1L826.4 540.5L827.4 525.8L828.4 510.9L829.4 496.1L830.4 481.2L831.4 466.2L832.4 451.4L833.4 436.5L834.4 421.8L835.4 407.2L836.4 392.7L837.4 378.4L838.4 364.4L839.4 350.5L840.4 336.9L841.4 323.7L842.4 310.7L843.3 298.1L844.3 285.8L845.3 273.9L846.3 262.5L847.3 251.5L848.3 240.9L849.3 230.9L850.3 221.3L851.3 212.3L852.3 203.8L853.3 195.8L854.3 188.5L855.3 181.7L856.3 175.5L857.3 170.0L858.3 165.1L859.3 160.8L860.3 157.1L861.3 154.1L862.3 151.8L863.3 150.1L864.3 149.1L865.3 148.8L866.3 149.1L867.3 150.1L868.2 151.8L869.2 154.1L870.2 157.1L871.2 160.8L872.2 165.1L873.2 170.0L874.2 175.5L875.2 181.7L876.2 188.5L877.2 195.8L878.2 203.8L879.2 212.3L880.2 221.3L881.2 230.9L882.2 240.9L883.2 251.5L884.2 262.5L885.2 273.9L886.2 285.8L887.2 298.1L888.2 310.7L889.2 323.7L890.2 336.9L891.2 350.5L892.2 364.4L893.1 378.4L894.1 392.7L895.1 407.2L896.1 421.8L897.1 436.5L898.1 451.4L899.1 466.2L900.1 481.1L901.1 496.1L902.1 510.9L903.1 525.8L904.1 540.5L905.1 555.1L906.1 569.6L907.1 583.9L908.1 597.9L909.1 611.8L910.1 625.4L911.1 638.6L912.1 651.6L913.1 664.2L914.1 676.5L915.1 688.4L916.1 699.8L917.1 710.8L918.0 721.4L919.0 731.4L920.0 741.0L921.0 750.0L922.0 758.5L923.0 766.5L924.0 773.8L925.0 780.6L926.0 786.8L927.0 792.3L928.0 797.2L929.0 801.5L930.0 805.2L931.0 808.2L932.0 810.5L933.0 812.2L934.0 813.2L935.0 813.5L936.0 813.2L937.0 812.2L938.0 810.5L939.0 808.2L940.0 805.2L941.0 801.5L942.0 797.2L942.9 792.3L943.9 786.8L944.9 780.6L945.9 773.8L946.9 766.5L947.9 758.5L948.9 750.0L949.9 741.0L950.9 731.4L951.9 721.4L952.9 710.8L953.9 699.8L954.9 688.4L955.9 676.5L956.9 664.2L957.9 651.6L958.9 638.6L959.9 625.4L960.9 611.8L961.9 597.9L962.9 583.9L963.9 569.6L964.9 555.1L965.9 540.5L966.9 525.8L967.8 510.9L968.8 496.1L969.8 481.1L970.8 466.2L971.8 451.4L972.8 436.5L973.8 421.8L974.8 407.2L975.8 392.7L976.8 378.4L977.8 364.4L978.8 350.5L979.8 336.9L980.8 323.7L981.8 310.7L982.8 298.1L983.8 285.8L984.8 273.9L985.8 262.5L986.8 251.5L987.8 240.9L988.8 230.9L989.8 221.3L990.8 212.3L991.8 203.8L992.7 195.8L993.7 188.5L994.7 181.7L995.7 175.5L996.7 170.0L997.7 165.1L998.7 160.8L999.7 157.1L1000.7 154.1L1001.7 151.8L1002.7 150.1L1003.7 149.1L1004.7 148.8L1005.7 149.1L1006.7 150.1L1007.7 151.8L1008.7 154.1L1009.7 157.1L1010.7 160.8L1011.7 165.1L1012.7 170.0L1013.7 175.5L1014.7 181.7L1015.7 188.5L1016.7 195.8L1017.6 203.8L1018.6 212.3L1019.6 221.3L1020.6 230.9L1021.6 240.9L1022.6 251.5L1023.6 262.5L1024.6 273.9L1025.6 285.8L1026.6 298.1L1027.6 310.7L1028.6 323.7L1029.6 336.9L1030.6 350.5L1031.6 364.4L1032.6 378.4L1033.6 392.7L1034.6 407.2L1035.6 421.8L1036.6 436.5L1037.6 451.4L1038.6 466.2L1039.6 481.2L1040.6 496.1L1041.6 510.9L1042.5 525.8L1043.5 540.5L1044.5 555.1L1045.5 569.6L1046.5 583.9L1047.5 597.9L1048.5 611.8L1049.5 625.4L1050.5 638.6L1051.5 651.6L1052.5 664.2L1053.5 676.5L1054.5 688.4L1055.5 699.8L1056.5 710.8L1057.5 721.4L1058.5 731.4L1059.5 741.0L1060.5 750.0L1061.5 758.5L1062.5 766.5L1063.5 773.8L1064.5 780.6L1065.5 786.8L1066.5 792.3L1067.4 797.2L1068.4 801.5L1069.4 805.2L1070.4 808.2L1071.4 810.5L1072.4 812.2L1073.4 813.2L1074.4 813.5L1075.4 813.2L1076.4 812.2L1077.4 810.5L1078.4 808.2L1079.4 805.2L1080.4 801.5L1081.4 797.2L1082.4 792.3L1083.4 786.8L1084.4 780.6L1085.4 773.8L1086.4 766.5L1087.4 758.5L1088.4 750.0L1089.4 741.0L1090.4 731.4L1091.4 721.4L1092.3 710.8L1093.3 699.8L1094.3 688.4L1095.3 676.5L1096.3 664.2L1097.3 651.6L1098.3 638.6L1099.3 625.4L1100.3 611.8L1101.3 597.9L1102.3 583.9L1103.3 569.6L1104.3 555.1L1105.3 540.5L1106.3 525.8L1107.3 510.9L1108.3 496.1L1109.3 481.2L1110.3 466.2L1111.3 451.4L1112.3 436.5L1113.3 421.8L1114.3 407.2L1115.3 392.7L1116.3 378.4L1117.2 364.4L1118.2 350.5L1119.2 336.9L1120.2 323.7L1121.2 310.7L1122.2 298.1L1123.2 285.8L1124.2 273.9L1125.2 262.5L1126.2 251.5L1127.2 240.9L1128.2 230.9L1129.2 221.3L1130.2 212.3L1131.2 203.8L1132.2 195.8L1133.2 188.5L1134.2 181.7L1135.2 175.5L1136.2 170.0L1137.2 165.1L1138.2 160.8L1139.2 157.1L1140.2 154.1L1141.2 151.8L1142.1 150.1L1143.1 149.1L1144.1 148.8L1145.1 149.1L1146.1 150.1L1147.1 151.8L1148.1 154.1L1149.1 157.1L1150.1 160.8L1151.1 165.1L1152.1 170.0L1153.1 175.5L1154.1 181.7L1155.1 188.5L1156.1 195.8L1157.1 203.8L1158.1 212.3L1159.1 221.3L1160.1 230.9L1161.1 240.9L1162.1 251.5L1163.1 262.5L1164.1 273.9L1165.1 285.8L1166.1 298.1L1167.0 310.7L1168.0 323.7L1169.0 336.9L1170.0 350.5L1171.0 364.4L1172.0 378.4L1173.0 392.7L1174.0 407.2L1175.0 421.8L1176.0 436.5L1177.0 451.4L1178.0 466.2L1179.0 481.2L1180.0 496.1L1181.0 510.9L1182.0 525.8L1183.0 540.5L1184.0 555.1L1185.0 569.6L1186.0 583.9L1187.0 597.9L1188.0 611.8L1189.0 625.4L1190.0 638.6L1191.0 651.6L1191.9 664.2L1192.9 676.5L1193.9 688.4L1194.9 699.8L1195.9 710.8L1196.9 721.4L1197.9 731.4L1198.9 741.0L1199.9 750.0L1200.9 758.5L1201.9 766.5L1202.9 773.8L1203.9 780.6L1204.9 786.8L1205.9 792.3L1206.9 797.2L1207.9 801.5L1208.9 805.2L1209.9 808.2L1210.9 810.5L1211.9 812.2L1212.9 813.2L1213.9 813.5L1214.9 813.2L1215.9 812.2L1216.8 810.5L1217.8 808.2L1218.8 805.2L1219.8 801.5L1220.8 797.2L1221.8 792.3L1222.8 786.8L1223.8 780.6L1224.8 773.8L1225.8 766.5L1226.8 758.5L1227.8 750.0L1228.8 741.0L1229.8 731.4L1230.8 721.4L1231.8 710.8L1232.8 699.8L1233.8 688.4L1234.8 676.5L1235.8 664.2L1236.8 651.6L1237.8 638.6L1238.8 625.4L1239.8 611.8L1240.8 597.9L1241.7 583.9L1242.7 569.6L1243.7 555.1L1244.7 540.5L1245.7 525.8L1246.7 510.9L1247.7 496.1L1248.7 481.2L1249.7 466.2L1250.7 451.4L1251.7 436.5L1252.7 421.8L1253.7 407.2L1254.7 392.7L1255.7 378.4L1256.7 364.4L1257.7 350.5L1258.7 336.9L1259.7 323.7L1260.7 310.7L1261.7 298.1L1262.7 285.8L1263.7 273.9L1264.7 262.5L1265.7 251.5L1266.6 240.9L1267.6 230.9L1268.6 221.3L1269.6 212.3L1270.6 203.8L1271.6 195.8L1272.6 188.5L1273.6 181.7L1274.6 175.5L1275.6 170.0L1276.6 165.1L1277.6 160.8L1278.6 157.1L1279.6 154.1L1280.6 151.8L1281.6 150.1L1282.6 149.1L1283.6 148.8L1284.6 149.1L1285.6 150.1L1286.6 151.8L1287.6 154.1L1288.6 157.1L1289.6 160.8L1290.6 165.1L1291.5 170.0L1292.5 175.5L1293.5 181.7L1294.5 188.5L1295.5 195.8L1296.5 203.8L1297.5 212.3L1298.5 221.3L1299.5 230.9L1300.5 240.9L1301.5 251.5L1302.5 262.5L1303.5 273.9L1304.5 285.8L1305.5 298.1L1306.5 310.7L1307.5 323.7L1308.5 336.9L1309.5 350.5L1310.5 364.4L1311.5 378.4L1312.5 392.7L1313.5 407.2L1314.5 421.8L1315.5 436.5L1316.4 451.4L1317.4 466.2L1318.4 481.2L1319.4 496.1L1320.4 510.9L1321.4 525.8L1322.4 540.5L1323.4 555.1L1324.4 569.6L1325.4 583.9L1326.4 597.9L1327.4 611.8" fill="none" stroke="#8c8cd2" stroke-width="5.8" stroke-dasharray="20.5 9"/><path d="M307.5 148.8L308.5 149.1L309.5 150.1L310.5 151.8L311.5 154.1L312.5 157.1L313.5 160.8L314.5 165.1L315.5 170.0L316.5 175.5L317.5 181.7L318.5 188.5L319.5 195.8L320.4 203.8L321.4 212.3L322.4 221.3L323.4 230.9L324.4 240.9L325.4 251.5L326.4 262.5L327.4 273.9L328.4 285.8L329.4 298.1L330.4 310.7L331.4 323.7L332.4 336.9L333.4 350.5L334.4 364.4L335.4 378.4L336.4 392.7L337.4 407.2L338.4 421.8L339.4 436.5L340.4 451.4L341.4 466.2L342.4 481.2L343.4 496.1L344.4 510.9L345.3 525.8L346.3 540.5L347.3 555.1L348.3 569.6L349.3 583.9L350.3 597.9L351.3 611.8L352.3 625.4L353.3 638.6L354.3 651.6L355.3 664.2L356.3 676.5L357.3 688.4L358.3 699.8L359.3 710.8L360.3 721.4L361.3 731.4L362.3 741.0L363.3 750.0L364.3 758.5L365.3 766.5L366.3 773.8L367.3 780.6L368.3 786.8L369.3 792.3L370.2 797.2L371.2 801.5L372.2 805.2L373.2 808.2L374.2 810.5L375.2 812.2L376.2 813.2L377.2 813.5L378.2 813.2L379.2 812.2L380.2 810.5L381.2 808.2L382.2 805.2L383.2 801.5L384.2 797.2L385.2 792.3L386.2 786.8L387.2 780.6L388.2 773.8L389.2 766.5L390.2 758.5L391.2 750.0L392.2 741.0L393.2 731.4L394.2 721.4L395.1 710.8L396.1 699.8L397.1 688.4L398.1 676.5L399.1 664.2L400.1 651.6L401.1 638.6L402.1 625.4L403.1 611.8L404.1 597.9L405.1 583.9L406.1 569.6L407.1 555.1L408.1 540.5L409.1 525.8L410.1 510.9L411.1 496.1L412.1 481.2L413.1 466.2L414.1 451.4L415.1 436.5L416.1 421.8L417.1 407.2L418.1 392.7L419.1 378.4L420.0 364.4L421.0 350.5L422.0 336.9L423.0 323.7L424.0 310.7L425.0 298.1L426.0 285.8L427.0 273.9L428.0 262.5L429.0 251.5L430.0 240.9L431.0 230.9L432.0 221.3L433.0 212.3L434.0 203.8L435.0 195.8L436.0 188.5L437.0 181.7L438.0 175.5L439.0 170.0L440.0 165.1L441.0 160.8L442.0 157.1L443.0 154.1L444.0 151.8L444.9 150.1L445.9 149.1L446.9 148.8L447.9 149.1L448.9 150.1L449.9 151.8L450.9 154.1L451.9 157.1L452.9 160.8L453.9 165.1L454.9 170.0L455.9 175.5L456.9 181.7L457.9 188.5L458.9 195.8L459.9 203.8L460.9 212.3L461.9 221.3L462.9 230.9L463.9 240.9L464.9 251.5L465.9 262.5L466.9 273.9L467.9 285.8L468.9 298.1L469.8 310.7L470.8 323.7L471.8 336.9L472.8 350.5L473.8 364.4L474.8 378.4L475.8 392.7L476.8 407.2L477.8 421.8L478.8 436.5L479.8 451.4L480.8 466.2L481.8 481.1L482.8 496.1L483.8 510.9L484.8 525.8L485.8 540.5L486.8 555.1L487.8 569.6L488.8 583.9L489.8 597.9L490.8 611.8L491.8 625.4L492.8 638.6L493.8 651.6L494.7 664.2L495.7 676.5L496.7 688.4L497.7 699.8L498.7 710.8L499.7 721.4L500.7 731.4L501.7 741.0L502.7 750.0L503.7 758.5L504.7 766.5L505.7 773.8L506.7 780.6L507.7 786.8L508.7 792.3L509.7 797.2L510.7 801.5L511.7 805.2L512.7 808.2L513.7 810.5L514.7 812.2L515.7 813.2L516.7 813.5L517.7 813.2L518.7 812.2L519.6 810.5L520.6 808.2L521.6 805.2L522.6 801.5L523.6 797.2L524.6 792.3L525.6 786.8L526.6 780.6L527.6 773.8L528.6 766.5L529.6 758.5L530.6 750.0L531.6 741.0L532.6 731.4L533.6 721.4L534.6 710.8L535.6 699.8L536.6 688.4L537.6 676.5L538.6 664.2L539.6 651.6L540.6 638.6L541.6 625.4L542.6 611.8L543.6 597.9L544.5 583.9L545.5 569.6L546.5 555.1L547.5 540.5L548.5 525.8L549.5 510.9L550.5 496.1L551.5 481.2L552.5 466.2L553.5 451.4L554.5 436.5L555.5 421.8L556.5 407.2L557.5 392.7L558.5 378.4L559.5 364.4L560.5 350.5L561.5 336.9L562.5 323.7L563.5 310.7L564.5 298.1L565.5 285.8L566.5 273.9L567.5 262.5L568.5 251.5L569.4 240.9L570.4 230.9L571.4 221.3L572.4 212.3L573.4 203.8L574.4 195.8L575.4 188.5L576.4 181.7L577.4 175.5L578.4 170.0L579.4 165.1L580.4 160.8L581.4 157.1L582.4 154.1L583.4 151.8L584.4 150.1L585.4 149.1L586.4 148.8L587.4 149.1L588.4 150.1L589.4 151.8L590.4 154.1L591.4 157.1L592.4 160.8L593.4 165.1L594.3 170.0L595.3 175.5L596.3 181.7L597.3 188.5L598.3 195.8L599.3 203.8L600.3 212.3L601.3 221.3L602.3 230.9L603.3 240.9L604.3 251.5L605.3 262.5L606.3 273.9L607.3 285.8L608.3 298.1L609.3 310.7L610.3 323.7L611.3 336.9L612.3 350.5L613.3 364.4L614.3 378.4L615.3 392.7L616.3 407.2L617.3 421.8L618.3 436.5L619.2 451.4L620.2 466.2L621.2 481.1L622.2 496.1L623.2 510.9L624.2 525.8L625.2 540.5L626.2 555.1L627.2 569.6L628.2 583.9L629.2 597.9L630.2 611.8L631.2 625.4L632.2 638.6L633.2 651.6L634.2 664.2L635.2 676.5L636.2 688.4L637.2 699.8L638.2 710.8L639.2 721.4L640.2 731.4L641.2 741.0L642.2 750.0L643.2 758.5L644.1 766.5L645.1 773.8L646.1 780.6L647.1 786.8L648.1 792.3L649.1 797.2L650.1 801.5L651.1 805.2L652.1 808.2L653.1 810.5L654.1 812.2L655.1 813.2L656.1 813.5L657.1 813.2L658.1 812.2L659.1 810.5L660.1 808.2L661.1 805.2L662.1 801.5L663.1 797.2L664.1 792.3L665.1 786.8L666.1 780.6L667.1 773.8L668.1 766.5L669.0 758.5L670.0 750.0L671.0 741.0L672.0 731.4L673.0 721.4L674.0 710.8L675.0 699.8L676.0 688.4L677.0 676.5L678.0 664.2L679.0 651.6L680.0 638.6L681.0 625.4L682.0 611.8L683.0 597.9L684.0 583.9L685.0 569.6L686.0 555.1L687.0 540.5L688.0 525.8L689.0 510.9L690.0 496.1L691.0 481.1L692.0 466.2L693.0 451.4L693.9 436.5L694.9 421.8L695.9 407.2L696.9 392.7L697.9 378.4L698.9 364.4L699.9 350.5L700.9 336.9L701.9 323.7L702.9 310.7L703.9 298.1L704.9 285.8L705.9 273.9L706.9 262.5L707.9 251.5L708.9 240.9L709.9 230.9L710.9 221.3L711.9 212.3L712.9 203.8L713.9 195.8L714.9 188.5L715.9 181.7L716.9 175.5L717.9 170.0L718.8 165.1L719.8 160.8L720.8 157.1L721.8 154.1L722.8 151.8L723.8 150.1L724.8 149.1L725.8 148.8L726.8 149.1L727.8 150.1L728.8 151.8L729.8 154.1L730.8 157.1L731.8 160.8L732.8 165.1L733.8 170.0L734.8 175.5L735.8 181.7L736.8 188.5L737.8 195.8L738.8 203.8L739.8 212.3L740.8 221.3L741.8 230.9L742.8 240.9L743.7 251.5L744.7 262.5L745.7 273.9L746.7 285.8L747.7 298.1L748.7 310.7L749.7 323.7L750.7 336.9L751.7 350.5L752.7 364.4L753.7 378.4L754.7 392.7L755.7 407.2L756.7 421.8L757.7 436.5L758.7 451.4L759.7 466.2L760.7 481.2L761.7 496.1L762.7 510.9L763.7 525.8L764.7 540.5L765.7 555.1L766.7 569.6L767.7 583.9L768.6 597.9L769.6 611.8L770.6 625.4L771.6 638.6L772.6 651.6L773.6 664.2L774.6 676.5L775.6 688.4L776.6 699.8L777.6 710.8L778.6 721.4L779.6 731.4L780.6 741.0L781.6 750.0L782.6 758.5L783.6 766.5L784.6 773.8L785.6 780.6L786.6 786.8L787.6 792.3L788.6 797.2L789.6 801.5L790.6 805.2L791.6 808.2L792.6 810.5L793.5 812.2L794.5 813.2L795.5 813.5L796.5 813.2L797.5 812.2L798.5 810.5L799.5 808.2L800.5 805.2L801.5 801.5L802.5 797.2L803.5 792.3L804.5 786.8L805.5 780.6L806.5 773.8L807.5 766.5L808.5 758.5L809.5 750.0L810.5 741.0L811.5 731.4L812.5 721.4L813.5 710.8L814.5 699.8L815.5 688.4L816.5 676.5L817.5 664.2L818.4 651.6L819.4 638.6L820.4 625.4L821.4 611.8L822.4 597.9L823.4 583.9L824.4 569.6L825.4 555.1L826.4 540.5L827.4 525.8L828.4 510.9L829.4 496.1L830.4 481.2L831.4 466.2L832.4 451.4L833.4 436.5L834.4 421.8L835.4 407.2L836.4 392.7L837.4 378.4L838.4 364.4L839.4 350.5L840.4 336.9L841.4 323.7L842.4 310.7L843.3 298.1L844.3 285.8L845.3 273.9L846.3 262.5L847.3 251.5L848.3 240.9L849.3 230.9L850.3 221.3L851.3 212.3L852.3 203.8L853.3 195.8L854.3 188.5L855.3 181.7L856.3 175.5L857.3 170.0L858.3 165.1L859.3 160.8L860.3 157.1L861.3 154.1L862.3 151.8L863.3 150.1L864.3 149.1L865.3 148.8L866.3 149.1L867.3 150.1L868.2 151.8L869.2 154.1L870.2 157.1L871.2 160.8L872.2 165.1L873.2 170.0L874.2 175.5L875.2 181.7L876.2 188.5L877.2 195.8L878.2 203.8L879.2 212.3L880.2 221.3L881.2 230.9L882.2 240.9L883.2 251.5L884.2 262.5L885.2 273.9L886.2 285.8L887.2 298.1L888.2 310.7L889.2 323.7L890.2 336.9L891.2 350.5L892.2 364.4L893.1 378.4L894.1 392.7L895.1 407.2L896.1 421.8L897.1 436.5L898.1 451.4L899.1 466.2L900.1 481.1L901.1 496.1L902.1 510.9L903.1 525.8L904.1 540.5L905.1 555.1L906.1 569.6L907.1 583.9L908.1 597.9L909.1 611.8L910.1 625.4L911.1 638.6L912.1 651.6L913.1 664.2L914.1 676.5L915.1 688.4L916.1 699.8L917.1 710.8L918.0 721.4L919.0 731.4L920.0 741.0L921.0 750.0L922.0 758.5L923.0 766.5L924.0 773.8L925.0 780.6L926.0 786.8L927.0 792.3L928.0 797.2L929.0 801.5L930.0 805.2L931.0 808.2L932.0 810.5L933.0 812.2L934.0 813.2L935.0 813.5L936.0 813.2L937.0 812.2L938.0 810.5L939.0 808.2L940.0 805.2L941.0 801.5L942.0 797.2L942.9 792.3L943.9 786.8L944.9 780.6L945.9 773.8L946.9 766.5L947.9 758.5L948.9 750.0L949.9 741.0L950.9 731.4L951.9 721.4L952.9 710.8L953.9 699.8L954.9 688.4L955.9 676.5L956.9 664.2L957.9 651.6L958.9 638.6L959.9 625.4L960.9 611.8L961.9 597.9L962.9 583.9L963.9 569.6L964.9 555.1L965.9 540.5L966.9 525.8L967.8 510.9L968.8 496.1L969.8 481.1L970.8 466.2L971.8 451.4L972.8 436.5L973.8 421.8L974.8 407.2L975.8 392.7L976.8 378.4L977.8 364.4L978.8 350.5L979.8 336.9L980.8 323.7L981.8 310.7L982.8 298.1L983.8 285.8L984.8 273.9L985.8 262.5L986.8 251.5L987.8 240.9L988.8 230.9L989.8 221.3L990.8 212.3L991.8 203.8L992.7 195.8L993.7 188.5L994.7 181.7L995.7 175.5L996.7 170.0L997.7 165.1L998.7 160.8L999.7 157.1L1000.7 154.1L1001.7 151.8L1002.7 150.1L1003.7 149.1L1004.7 148.8L1005.7 149.1L1006.7 150.1L1007.7 151.8L1008.7 154.1L1009.7 157.1L1010.7 160.8L1011.7 165.1L1012.7 170.0L1013.7 175.5L1014.7 181.7L1015.7 188.5L1016.7 195.8L1017.6 203.8L1018.6 212.3L1019.6 221.3L1020.6 230.9L1021.6 240.9L1022.6 251.5L1023.6 262.5L1024.6 273.9L1025.6 285.8L1026.6 298.1L1027.6 310.7L1028.6 323.7L1029.6 336.9L1030.6 350.5L1031.6 364.4L1032.6 378.4L1033.6 392.7L1034.6 407.2L1035.6 421.8L1036.6 436.5L1037.6 451.4L1038.6 466.2L1039.6 481.2L1040.6 496.1L1041.6 510.9L1042.5 525.8L1043.5 540.5L1044.5 555.1L1045.5 569.6L1046.5 583.9L1047.5 597.9L1048.5 611.8L1049.5 625.4L1050.5 638.6L1051.5 651.6L1052.5 664.2L1053.5 676.5L1054.5 688.4L1055.5 699.8L1056.5 710.8L1057.5 721.4L1058.5 731.4L1059.5 741.0L1060.5 750.0L1061.5 758.5L1062.5 766.5L1063.5 773.8L1064.5 780.6L1065.5 786.8L1066.5 792.3L1067.4 797.2L1068.4 801.5L1069.4 805.2L1070.4 808.2L1071.4 810.5L1072.4 812.2L1073.4 813.2L1074.4 813.5L1075.4 813.2L1076.4 812.2L1077.4 810.5L1078.4 808.2L1079.4 805.2L1080.4 801.5L1081.4 797.2L1082.4 792.3L1083.4 786.8L1084.4 780.6L1085.4 773.8L1086.4 766.5L1087.4 758.5L1088.4 750.0L1089.4 741.0L1090.4 731.4L1091.4 721.4L1092.3 710.8L1093.3 699.8L1094.3 688.4L1095.3 676.5L1096.3 664.2L1097.3 651.6L1098.3 638.6L1099.3 625.4L1100.3 611.8L1101.3 597.9L1102.3 583.9L1103.3 569.6L1104.3 555.1L1105.3 540.5L1106.3 525.8L1107.3 510.9L1108.3 496.1L1109.3 481.2L1110.3 466.2L1111.3 451.4L1112.3 436.5L1113.3 421.8L1114.3 407.2L1115.3 392.7L1116.3 378.4L1117.2 364.4L1118.2 350.5L1119.2 336.9L1120.2 323.7L1121.2 310.7L1122.2 298.1L1123.2 285.8L1124.2 273.9L1125.2 262.5L1126.2 251.5L1127.2 240.9L1128.2 230.9L1129.2 221.3L1130.2 212.3L1131.2 203.8L1132.2 195.8L1133.2 188.5L1134.2 181.7L1135.2 175.5L1136.2 170.0L1137.2 165.1L1138.2 160.8L1139.2 157.1L1140.2 154.1L1141.2 151.8L1142.1 150.1L1143.1 149.1L1144.1 148.8L1145.1 149.1L1146.1 150.1L1147.1 151.8L1148.1 154.1L1149.1 157.1L1150.1 160.8L1151.1 165.1L1152.1 170.0L1153.1 175.5L1154.1 181.7L1155.1 188.5L1156.1 195.8L1157.1 203.8L1158.1 212.3L1159.1 221.3L1160.1 230.9L1161.1 240.9L1162.1 251.5L1163.1 262.5L1164.1 273.9L1165.1 285.8L1166.1 298.1L1167.0 310.7L1168.0 323.7L1169.0 336.9L1170.0 350.5L1171.0 364.4L1172.0 378.4L1173.0 392.7L1174.0 407.2L1175.0 421.8L1176.0 436.5L1177.0 451.4L1178.0 466.2L1179.0 481.2L1180.0 496.1L1181.0 510.9L1182.0 525.8L1183.0 540.5L1184.0 555.1L1185.0 569.6L1186.0 583.9L1187.0 597.9L1188.0 611.8L1189.0 625.4L1190.0 638.6L1191.0 651.6L1191.9 664.2L1192.9 676.5L1193.9 688.4L1194.9 699.8L1195.9 710.8L1196.9 721.4L1197.9 731.4L1198.9 741.0L1199.9 750.0L1200.9 758.5L1201.9 766.5L1202.9 773.8L1203.9 780.6L1204.9 786.8L1205.9 792.3L1206.9 797.2L1207.9 801.5L1208.9 805.2L1209.9 808.2L1210.9 810.5L1211.9 812.2L1212.9 813.2L1213.9 813.5L1214.9 813.2L1215.9 812.2L1216.8 810.5L1217.8 808.2L1218.8 805.2L1219.8 801.5L1220.8 797.2L1221.8 792.3L1222.8 786.8L1223.8 780.6L1224.8 773.8L1225.8 766.5L1226.8 758.5L1227.8 750.0L1228.8 741.0L1229.8 731.4L1230.8 721.4L1231.8 710.8L1232.8 699.8L1233.8 688.4L1234.8 676.5L1235.8 664.2L1236.8 651.6L1237.8 638.6L1238.8 625.4L1239.8 611.8L1240.8 597.9L1241.7 583.9L1242.7 569.6L1243.7 555.1L1244.7 540.5L1245.7 525.8L1246.7 510.9L1247.7 496.1L1248.7 481.2L1249.7 466.2L1250.7 451.4L1251.7 436.5L1252.7 421.8L1253.7 407.2L1254.7 392.7L1255.7 378.4L1256.7 364.4L1257.7 350.5L1258.7 336.9L1259.7 323.7L1260.7 310.7L1261.7 298.1L1262.7 285.8L1263.7 273.9L1264.7 262.5L1265.7 251.5L1266.6 240.9L1267.6 230.9L1268.6 221.3L1269.6 212.3L1270.6 203.8L1271.6 195.8L1272.6 188.5L1273.6 181.7L1274.6 175.5L1275.6 170.0L1276.6 165.1L1277.6 160.8L1278.6 157.1L1279.6 154.1L1280.6 151.8L1281.6 150.1L1282.6 149.1L1283.6 148.8L1284.6 149.1L1285.6 150.1L1286.6 151.8L1287.6 154.1L1288.6 157.1L1289.6 160.8L1290.6 165.1L1291.5 170.0L1292.5 175.5L1293.5 181.7L1294.5 188.5L1295.5 195.8L1296.5 203.8L1297.5 212.3L1298.5 221.3L1299.5 230.9L1300.5 240.9L1301.5 251.5L1302.5 262.5L1303.5 273.9L1304.5 285.8L1305.5 298.1L1306.5 310.7L1307.5 323.7L1308.5 336.9L1309.5 350.5L1310.5 364.4L1311.5 378.4L1312.5 392.7L1313.5 407.2L1314.5 421.8L1315.5 436.5L1316.4 451.4L1317.4 466.2L1318.4 481.2L1319.4 496.1L1320.4 510.9L1321.4 525.8L1322.4 540.5L1323.4 555.1L1324.4 569.6L1325.4 583.9L1326.4 597.9L1327.4 611.8" fill="none" stroke="#2d449b" stroke-width="2.6" stroke-dasharray="20.5 9"/></g><path d="M308.5 30.5H1332.5M308.5 29V814M307 812.5H1333" fill="none" stroke="#000" stroke-width="3"/><path d="M1332.5 29V814" fill="none" stroke="#000" stroke-width="2.4"/><path d="M308.50 812.5V797M408.10 812.5V797M507.70 812.5V797M607.30 812.5V797M706.90 812.5V797M806.50 812.5V797M906.10 812.5V797M1005.70 812.5V797M1105.30 812.5V797M1204.90 812.5V797M1304.50 812.5V797M308.5 812.50H325M308.5 682.17H325M308.5 551.83H325M308.5 421.50H325M308.5 291.17H325M308.5 160.83H325M308.5 30.50H325" stroke="#000" stroke-width="2.6" fill="none"/><text x="289.15" y="829.25" text-anchor="end" font-family="Liberation Serif" font-size="56" fill="#231f20">0</text><text x="289.15" y="698.76" text-anchor="end" font-family="Liberation Serif" font-size="56" fill="#231f20">50</text><text x="289.15" y="568.27" text-anchor="end" font-family="Liberation Serif" font-size="56" fill="#231f20">100</text><text x="289.15" y="437.78" text-anchor="end" font-family="Liberation Serif" font-size="56" fill="#231f20">150</text><text x="289.15" y="307.29" text-anchor="end" font-family="Liberation Serif" font-size="56" fill="#231f20">200</text><text x="289.15" y="176.80" text-anchor="end" font-family="Liberation Serif" font-size="56" fill="#231f20">250</text><text x="289.15" y="46.31" text-anchor="end" font-family="Liberation Serif" font-size="56" fill="#231f20">300</text><text x="307.80" y="873.05" text-anchor="middle" font-family="Liberation Serif" font-size="56" fill="#231f20">0</text><text x="407.40" y="873.05" text-anchor="middle" font-family="Liberation Serif" font-size="56" fill="#231f20">50</text><text x="507.00" y="873.05" text-anchor="middle" font-family="Liberation Serif" font-size="56" fill="#231f20">100</text><text x="606.60" y="873.05" text-anchor="middle" font-family="Liberation Serif" font-size="56" fill="#231f20">150</text><text x="706.20" y="873.05" text-anchor="middle" font-family="Liberation Serif" font-size="56" fill="#231f20">200</text><text x="805.80" y="873.05" text-anchor="middle" font-family="Liberation Serif" font-size="56" fill="#231f20">250</text><text x="905.40" y="873.05" text-anchor="middle" font-family="Liberation Serif" font-size="56" fill="#231f20">300</text><text x="1005.00" y="873.05" text-anchor="middle" font-family="Liberation Serif" font-size="56" fill="#231f20">350</text><text x="1104.60" y="873.05" text-anchor="middle" font-family="Liberation Serif" font-size="56" fill="#231f20">400</text><text x="1204.20" y="873.05" text-anchor="middle" font-family="Liberation Serif" font-size="56" fill="#231f20">450</text><text x="1303.80" y="873.05" text-anchor="middle" font-family="Liberation Serif" font-size="56" fill="#231f20">500</text><text transform="translate(603.4 935.0) scale(0.9925 0.98)" font-family="Liberation Serif" font-size="56" fill="#231f20">Pixel position/pixel</text><text transform="translate(175.9 519.1) rotate(-90) scale(1 0.98)" font-family="Liberation Serif" font-size="56" fill="#231f20">Intensity</text><path d="M328 74H427" fill="none" stroke="#f7707f" stroke-width="5.6"/><path d="M328 74H427" fill="none" stroke="#d82636" stroke-width="2.6"/><text transform="translate(427 91.8) scale(1 0.98)" font-family="Liberation Serif" font-size="56" fill="#231f20">Ideal</text><path d="M583.2 73H682" fill="none" stroke="#8c8cd2" stroke-width="5.8" stroke-dasharray="19.5 12.45"/><path d="M583.2 73H682" fill="none" stroke="#2d449b" stroke-width="2.6" stroke-dasharray="19.5 12.45"/><text transform="translate(682.8 91.8) scale(1 0.98)" font-family="Liberation Serif" font-size="56" fill="#231f20">Corrected</text><path d="M938 73.8H1037" fill="none" stroke="#a3c8ea" stroke-width="5.8" stroke-dasharray="16 5.5 4 6"/><path d="M938 73.8H1037" fill="none" stroke="#31659f" stroke-width="2.3" stroke-dasharray="16 5.5 4 6"/><text transform="translate(1035.75 91.8) scale(1 0.98)" font-family="Liberation Serif" font-size="56" fill="#231f20">Uncorrected</text></svg></body></html>
